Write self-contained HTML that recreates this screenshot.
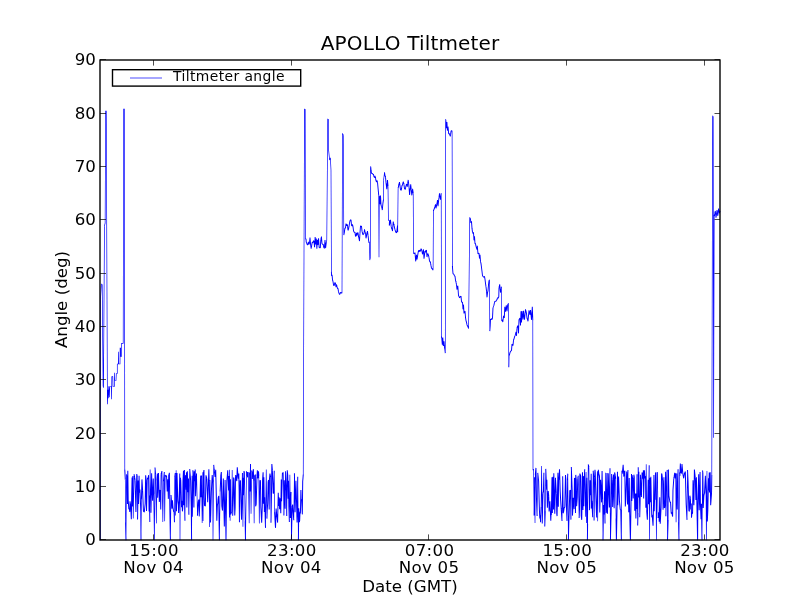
<!DOCTYPE html>
<html><head><meta charset="utf-8"><title>APOLLO Tiltmeter</title>
<style>
html,body{margin:0;padding:0;background:#fff;width:800px;height:600px;overflow:hidden}
svg{display:block}
text{font-family:"DejaVu Sans","Liberation Sans",sans-serif;fill:#000}
#txt{will-change:opacity;opacity:0.999}
</style></head><body>
<svg width="800" height="600" viewBox="0 0 800 600">
<rect width="800" height="600" fill="#fff"/>
<path fill="#0000ff" fill-rule="nonzero" stroke="none" d="M100.05,540.15L100.16,299.85L100.85,299.85L100.74,540.15ZM100.15,300.13L100.56,291.83L101.25,291.87L100.84,300.17ZM100.55,292.13L100.96,284.83L101.65,284.87L101.24,292.17ZM100.92,284.98L101.56,283.71L102.18,284.02L101.54,285.29ZM101.98,283.67L102.56,284.40L102.02,284.83L101.44,284.10ZM102.54,284.35L103.45,386.15L102.76,386.15L101.85,284.35ZM103.40,385.77L103.87,387.66L103.20,387.83L102.73,385.94ZM103.15,387.75L104.11,225.85L104.80,225.85L103.84,387.75ZM104.08,226.07L104.85,222.78L105.52,222.93L104.75,226.22ZM104.80,223.15L105.26,110.85L105.95,110.85L105.49,223.15ZM105.45,110.66L106.45,110.66L106.45,111.34L105.45,111.34ZM106.64,110.85L107.75,404.15L107.06,404.15L105.95,110.85ZM107.05,404.14L107.66,389.84L108.35,389.86L107.74,404.16ZM108.34,389.84L108.65,398.14L107.96,398.16L107.65,389.86ZM107.95,398.13L108.46,386.34L109.15,386.37L108.64,398.16ZM109.14,386.33L109.65,397.13L108.96,397.17L108.45,386.37ZM108.95,397.13L109.46,386.33L110.15,386.37L109.64,397.17ZM109.65,386.15L111.55,386.15L111.55,386.85L109.65,386.85ZM111.74,386.34L111.95,399.14L111.26,399.16L111.05,386.36ZM111.25,399.15L111.46,376.45L112.15,376.45L111.94,399.15ZM111.65,376.25L112.95,376.25L112.95,376.95L111.65,376.95ZM113.14,376.44L113.35,386.64L112.66,386.66L112.45,376.46ZM112.85,386.15L114.55,386.15L114.55,386.85L112.85,386.85ZM114.05,386.65L114.16,372.85L114.85,372.85L114.74,386.65ZM114.84,372.84L115.05,380.64L114.36,380.66L114.15,372.86ZM114.55,380.15L116.15,380.15L116.15,380.85L114.55,380.85ZM115.65,380.64L115.96,373.34L116.65,373.36L116.34,380.66ZM116.15,373.15L117.45,373.15L117.45,373.85L116.15,373.85ZM116.95,373.65L116.95,363.85L117.64,363.85L117.64,373.65ZM117.15,363.65L118.45,363.65L118.45,364.35L117.15,364.35ZM117.95,364.15L118.06,351.85L118.75,351.85L118.64,364.15ZM118.74,351.84L118.95,364.14L118.26,364.16L118.05,351.86ZM118.45,363.65L120.15,363.65L120.15,364.35L118.45,364.35ZM119.65,364.15L119.76,347.85L120.45,347.85L120.34,364.15ZM119.95,347.65L120.75,347.65L120.75,348.35L119.95,348.35ZM120.94,347.85L120.94,356.65L120.25,356.65L120.25,347.85ZM120.45,356.15L121.65,356.15L121.65,356.85L120.45,356.85ZM121.16,356.65L121.16,343.25L121.84,343.25L121.84,356.65ZM121.35,343.05L123.35,343.05L123.35,343.75L121.35,343.75ZM122.85,343.55L123.26,108.85L123.95,108.85L123.54,343.55ZM123.45,108.66L124.55,108.66L124.55,109.34L123.45,109.34ZM124.74,108.85L125.15,470.15L124.46,470.15L124.05,108.85ZM125.29,469.82L125.81,479.61L124.81,479.66L124.29,469.88ZM125.64,479.33L125.92,522.89L125.23,522.90L124.95,479.34ZM126.07,522.58L126.50,540.14L125.50,540.16L125.07,522.61ZM125.65,540.15L126.16,474.42L126.85,474.43L126.34,540.15ZM126.97,474.35L127.67,478.66L126.68,478.82L125.98,474.51ZM127.65,478.44L127.93,503.96L126.93,503.97L126.65,478.45ZM126.92,503.96L127.30,470.65L128.30,470.66L127.92,503.97ZM128.30,470.65L128.68,499.77L127.68,499.79L127.30,470.66ZM128.66,499.45L129.33,509.11L128.34,509.18L127.67,499.52ZM128.55,508.55L129.49,508.30L129.75,509.27L128.81,509.52ZM129.96,508.63L130.26,511.93L129.27,512.02L128.96,508.72ZM129.25,511.96L129.53,501.26L130.53,501.28L130.25,511.99ZM130.50,501.20L131.19,505.87L130.20,506.02L129.51,501.34ZM131.17,505.62L131.83,519.30L130.83,519.35L130.17,505.67ZM130.82,519.32L131.20,496.40L132.20,496.42L131.82,519.34ZM131.20,496.70L131.58,477.49L132.58,477.51L132.20,496.72ZM132.57,477.49L133.08,506.56L132.08,506.58L131.57,477.51ZM132.07,506.57L132.35,476.05L133.35,476.06L133.07,506.58ZM133.19,476.05L133.57,518.52L132.88,518.53L132.50,476.06ZM132.88,518.52L133.73,474.33L134.42,474.34L133.57,518.53ZM134.54,474.24L135.09,477.09L134.11,477.28L133.56,474.44ZM135.05,476.81L135.59,480.25L134.60,480.41L134.06,476.97ZM135.57,480.02L136.43,512.01L135.43,512.04L134.57,480.05ZM135.42,512.02L136.28,474.08L137.28,474.11L136.42,512.04ZM137.23,473.99L137.80,476.64L136.82,476.85L136.25,474.20ZM137.62,476.45L137.90,519.41L137.21,519.41L136.93,476.45ZM137.05,519.40L137.70,480.45L138.70,480.47L138.05,519.42ZM138.70,480.45L139.08,503.93L138.08,503.94L137.70,480.47ZM138.07,503.92L138.58,475.66L139.58,475.68L139.07,503.94ZM139.57,475.66L139.95,492.74L138.95,492.76L138.57,475.68ZM138.93,492.66L139.48,489.43L140.47,489.59L139.92,492.83ZM140.44,489.49L141.31,511.36L140.31,511.40L139.44,489.53ZM141.30,511.08L141.50,540.15L140.50,540.15L140.30,511.08ZM140.65,540.15L141.11,499.04L141.80,499.05L141.34,540.15ZM140.95,499.33L141.45,479.38L142.45,479.41L141.95,499.36ZM142.44,479.37L143.11,490.58L142.11,490.64L141.44,479.43ZM143.09,490.29L143.96,511.46L142.96,511.50L142.09,490.33ZM143.65,510.85L144.74,511.75L144.10,512.52L143.01,511.62ZM143.79,512.13L144.67,503.72L145.66,503.82L144.78,512.24ZM144.65,504.06L145.15,475.27L146.15,475.29L145.65,504.07ZM146.13,475.22L146.54,478.87L145.54,478.98L145.14,475.33ZM146.52,478.61L147.03,511.02L146.03,511.03L145.52,478.63ZM146.02,511.02L146.68,479.93L147.68,479.95L147.02,511.04ZM146.65,480.13L146.99,478.53L147.97,478.74L147.63,480.34ZM146.94,478.69L147.92,476.72L148.81,477.16L147.83,479.14ZM147.78,477.14L148.10,475.12L149.09,475.28L148.77,477.30ZM149.07,475.19L149.58,511.42L148.58,511.43L148.07,475.20ZM148.57,511.41L148.85,495.41L149.85,495.42L149.57,511.43ZM149.85,495.41L150.35,521.99L149.35,522.01L148.85,495.42ZM149.50,522.00L149.78,469.50L150.47,469.51L150.19,522.00ZM150.47,469.50L151.32,512.83L150.63,512.84L149.78,469.51ZM150.47,512.83L151.13,473.29L152.13,473.31L151.47,512.84ZM152.12,473.28L152.63,491.67L151.63,491.70L151.12,473.31ZM152.62,491.36L153.13,500.67L152.13,500.73L151.62,491.41ZM152.12,500.69L152.78,478.43L153.78,478.46L153.12,500.72ZM153.77,478.43L154.15,493.83L153.15,493.86L152.77,478.46ZM153.99,493.54L154.75,540.14L154.06,540.16L153.30,493.55ZM154.05,540.15L154.66,467.42L155.35,467.43L154.74,540.15ZM155.49,467.39L156.01,474.02L155.01,474.10L154.49,467.47ZM155.84,473.75L156.70,523.37L156.01,523.38L155.15,473.77ZM156.00,523.37L156.51,479.93L157.20,479.93L156.69,523.38ZM156.34,480.19L156.86,473.49L157.86,473.57L157.34,480.27ZM157.85,473.52L158.13,497.81L157.13,497.82L156.85,473.53ZM157.12,497.79L157.98,473.06L158.98,473.10L158.12,497.83ZM158.97,473.07L159.83,502.00L158.83,502.03L157.97,473.10ZM158.81,501.96L159.22,497.87L160.21,497.97L159.81,502.06ZM159.20,498.21L159.48,489.85L160.48,489.88L160.19,498.24ZM160.46,489.82L160.99,495.60L159.99,495.69L159.46,489.91ZM160.97,495.33L161.25,509.39L160.25,509.41L159.97,495.35ZM160.25,509.40L160.63,473.93L161.63,473.94L161.25,509.41ZM160.60,474.09L161.54,470.91L162.50,471.19L161.56,474.37ZM162.32,471.04L163.17,522.07L162.48,522.08L161.63,471.05ZM162.48,522.07L163.13,481.00L163.82,481.01L163.17,522.08ZM162.96,481.26L163.84,471.94L164.84,472.04L163.96,481.35ZM164.67,471.99L165.05,521.33L164.36,521.34L163.98,471.99ZM164.35,521.33L164.86,475.03L165.55,475.04L165.04,521.34ZM165.58,474.83L166.21,476.11L165.32,476.55L164.69,475.27ZM165.32,475.83L166.43,475.20L166.93,476.07L165.82,476.70ZM167.04,475.54L167.71,491.44L166.71,491.48L166.04,475.58ZM166.69,491.43L167.36,479.29L168.36,479.35L167.69,491.49ZM168.35,479.31L168.85,498.86L167.85,498.89L167.35,479.33ZM167.85,498.87L168.23,475.37L169.23,475.38L168.85,498.89ZM168.20,475.55L168.93,472.70L169.90,472.94L169.17,475.79ZM169.87,472.81L170.38,510.93L169.38,510.94L168.87,472.82ZM170.37,510.63L170.90,540.14L169.90,540.16L169.37,510.65ZM170.05,540.15L170.68,494.94L171.37,494.95L170.74,540.15ZM171.51,494.91L171.81,498.74L170.81,498.82L170.51,494.98ZM171.79,498.45L172.46,508.66L171.46,508.73L170.79,498.52ZM171.44,508.67L171.96,500.35L172.96,500.42L172.44,508.73ZM172.94,500.35L173.46,507.50L172.46,507.58L171.94,500.42ZM173.42,507.16L174.12,511.51L173.13,511.66L172.43,507.32ZM173.91,511.02L174.59,511.91L173.79,512.52L173.11,511.62ZM174.59,511.93L174.98,522.30L173.98,522.34L173.59,511.97ZM174.13,522.32L174.41,477.31L175.10,477.31L174.82,522.32ZM174.24,477.55L174.77,472.91L175.76,473.03L175.23,477.66ZM175.59,472.97L175.97,515.57L175.28,515.57L174.90,472.97ZM175.28,515.57L175.78,470.35L176.47,470.36L175.97,515.57ZM176.47,470.35L176.85,511.22L176.16,511.23L175.78,470.36ZM176.00,511.22L176.50,472.98L177.50,473.00L177.00,511.23ZM177.50,472.98L178.35,501.09L177.35,501.12L176.50,473.01ZM178.33,500.75L178.87,504.86L177.87,504.99L177.33,500.88ZM178.84,504.61L179.13,513.00L178.13,513.03L177.85,504.64ZM178.12,513.00L178.78,496.29L179.78,496.33L179.12,513.04ZM178.77,496.60L179.28,473.52L180.28,473.54L179.77,496.62ZM180.12,473.53L180.35,540.15L179.66,540.15L179.43,473.53ZM179.65,540.15L179.98,477.85L180.67,477.85L180.34,540.15ZM180.78,477.75L181.22,479.79L180.24,480.00L179.80,477.96ZM181.20,479.58L182.05,507.26L181.05,507.29L180.20,479.61ZM181.04,507.25L181.44,500.80L182.43,500.86L182.04,507.31ZM182.42,500.80L182.93,511.31L181.93,511.36L181.42,500.85ZM181.91,511.27L182.22,508.72L183.21,508.84L182.90,511.40ZM182.20,509.08L182.48,480.97L183.48,480.98L183.20,509.09ZM182.47,481.25L182.98,470.66L183.98,470.70L183.47,481.30ZM183.97,470.68L184.25,505.34L183.25,505.35L182.97,470.68ZM183.25,505.33L183.90,469.94L184.90,469.96L184.25,505.35ZM184.90,469.95L185.18,507.76L184.18,507.76L183.90,469.96ZM185.17,507.45L185.45,520.65L184.45,520.67L184.17,507.47ZM184.60,520.66L184.98,477.35L185.67,477.36L185.29,520.66ZM184.81,477.57L185.23,474.97L186.22,475.13L185.79,477.73ZM186.19,475.03L186.70,489.60L185.71,489.63L185.20,475.07ZM185.70,489.61L185.98,472.18L186.98,472.20L186.70,489.62ZM186.97,472.19L187.35,507.58L186.35,507.59L185.97,472.20ZM186.35,507.58L186.85,471.13L187.85,471.14L187.35,507.59ZM187.85,471.13L188.35,492.14L187.35,492.17L186.85,471.15ZM187.34,492.13L188.01,478.52L189.01,478.57L188.34,492.18ZM189.00,478.54L189.38,514.72L188.38,514.73L188.00,478.55ZM188.53,514.72L189.38,469.04L190.07,469.05L189.22,514.73ZM190.21,469.00L190.61,473.77L189.61,473.85L189.21,469.09ZM190.59,473.47L191.11,480.41L190.11,480.48L189.59,473.55ZM191.10,480.13L191.75,506.70L190.75,506.73L190.10,480.16ZM191.75,506.41L192.10,540.14L191.10,540.16L190.75,506.42ZM191.25,540.15L191.66,475.71L192.35,475.72L191.94,540.15ZM192.34,475.71L192.85,516.85L192.16,516.86L191.65,475.72ZM192.15,516.85L192.53,470.36L193.22,470.36L192.84,516.86ZM193.36,470.33L193.76,476.77L192.76,476.83L192.37,470.39ZM193.75,476.49L194.40,507.52L193.40,507.54L192.75,476.51ZM193.40,507.52L193.68,471.16L194.68,471.16L194.40,507.53ZM194.66,471.13L195.33,481.17L194.34,481.24L193.67,471.19ZM194.32,481.19L194.71,469.42L195.70,469.45L195.32,481.22ZM195.70,469.43L196.08,496.29L195.08,496.31L194.70,469.44ZM195.07,496.28L195.73,477.17L196.73,477.20L196.07,496.32ZM195.71,477.43L196.12,473.54L197.11,473.65L196.71,477.53ZM196.94,473.59L197.80,515.78L197.11,515.79L196.25,473.60ZM196.94,515.76L197.81,501.02L198.81,501.08L197.94,515.81ZM197.78,501.14L198.55,499.35L199.47,499.75L198.70,501.54ZM199.45,499.53L199.73,516.35L198.73,516.37L198.45,499.55ZM198.72,516.34L199.58,496.52L200.58,496.57L199.72,516.38ZM199.57,496.83L199.95,480.66L200.95,480.68L200.57,496.86ZM199.94,480.94L200.23,475.62L201.23,475.67L200.94,481.00ZM201.22,475.64L201.50,497.14L200.50,497.15L200.22,475.65ZM200.50,497.14L201.00,475.57L202.00,475.59L201.50,497.16ZM201.84,475.57L202.50,522.92L201.81,522.93L201.15,475.58ZM201.80,522.92L202.46,472.14L203.15,472.15L202.49,522.93ZM203.14,472.14L203.42,521.02L202.73,521.02L202.45,472.15ZM202.73,521.02L203.11,473.21L203.80,473.21L203.42,521.02ZM202.93,473.43L203.48,469.94L204.47,470.09L203.92,473.59ZM204.45,470.01L204.73,498.05L203.73,498.06L203.45,470.02ZM204.72,497.74L205.01,505.50L204.01,505.54L203.72,497.78ZM204.69,504.88L205.77,505.72L205.16,506.51L204.08,505.67ZM204.85,506.17L205.50,475.26L206.50,475.28L205.85,506.19ZM206.45,475.14L207.37,478.68L206.40,478.93L205.48,475.40ZM207.34,478.49L208.21,502.31L207.21,502.35L206.34,478.53ZM207.19,502.31L207.71,489.32L208.71,489.36L208.19,502.35ZM207.70,489.63L208.36,469.17L209.35,469.20L208.69,489.66ZM209.35,469.17L209.63,480.53L208.63,480.56L208.35,469.20ZM209.47,480.24L209.97,527.00L209.28,527.01L208.78,480.25ZM209.28,527.00L209.66,480.07L210.35,480.08L209.97,527.01ZM210.34,480.07L210.85,522.38L210.16,522.39L209.65,480.08ZM210.00,522.37L210.85,491.88L211.85,491.91L211.00,522.40ZM210.84,492.17L211.71,475.05L212.71,475.10L211.84,492.22ZM212.69,475.04L213.21,481.40L212.21,481.48L211.69,475.12ZM213.04,481.14L213.35,540.15L212.66,540.15L212.35,481.14ZM212.65,540.15L213.36,464.91L214.05,464.92L213.34,540.15ZM214.18,464.86L214.71,470.07L213.72,470.17L213.19,464.96ZM214.68,469.76L215.56,476.85L214.57,476.98L213.69,469.88ZM214.54,476.87L215.22,469.78L216.21,469.88L215.53,476.96ZM216.20,469.82L216.48,480.84L215.48,480.86L215.20,469.84ZM216.47,480.54L217.33,520.82L216.33,520.84L215.47,480.56ZM216.32,520.81L216.83,505.59L217.83,505.63L217.32,520.84ZM216.81,505.82L217.36,502.83L218.34,503.01L217.79,506.00ZM217.32,503.19L217.61,498.01L218.61,498.07L218.32,503.25ZM217.58,498.19L218.32,495.77L219.27,496.07L218.53,498.48ZM219.25,495.91L219.53,518.67L218.53,518.68L218.25,495.92ZM219.52,518.36L219.90,540.14L218.90,540.16L218.52,518.38ZM219.05,540.14L219.83,491.29L220.52,491.30L219.74,540.16ZM219.67,491.58L220.33,475.37L221.33,475.41L220.67,491.62ZM220.31,475.61L220.85,472.05L221.84,472.20L221.30,475.77ZM221.82,472.11L222.33,506.26L221.33,506.27L220.82,472.13ZM222.30,505.89L222.99,510.53L222.00,510.68L221.31,506.04ZM221.97,510.60L222.83,478.62L223.83,478.65L222.97,510.62ZM223.82,478.62L224.33,502.60L223.33,502.62L222.82,478.64ZM224.32,502.30L224.83,526.59L223.83,526.61L223.32,502.32ZM223.82,526.59L224.20,507.32L225.20,507.34L224.82,526.61ZM224.20,507.62L224.58,480.06L225.58,480.07L225.20,507.63ZM225.57,480.06L226.08,508.62L225.08,508.64L224.57,480.07ZM226.07,508.33L226.50,540.14L225.50,540.16L225.07,508.34ZM225.50,540.14L225.85,508.14L226.85,508.15L226.50,540.16ZM225.85,508.43L226.35,480.41L227.35,480.43L226.85,508.45ZM226.34,480.68L226.87,474.96L227.86,475.05L227.33,480.77ZM226.84,475.27L227.24,470.14L228.24,470.22L227.84,475.35ZM228.22,470.16L229.08,490.57L228.08,490.61L227.22,470.20ZM228.07,490.58L228.35,475.96L229.35,475.98L229.07,490.60ZM229.19,475.96L229.70,517.61L229.01,517.62L228.50,475.97ZM229.00,517.62L229.28,469.81L229.97,469.82L229.69,517.62ZM229.97,469.81L230.47,520.83L229.78,520.84L229.28,469.82ZM229.78,520.83L230.06,479.32L230.75,479.32L230.47,520.84ZM230.90,479.31L231.18,514.52L230.18,514.53L229.90,479.32ZM230.15,514.34L231.11,511.75L232.05,512.10L231.09,514.69ZM231.80,511.63L232.28,512.17L231.52,512.83L231.05,512.28ZM231.45,512.53L231.83,469.90L232.52,469.90L232.14,512.54ZM232.52,469.90L233.02,515.79L232.33,515.80L231.83,469.90ZM232.17,515.78L232.83,496.40L233.83,496.43L233.17,515.81ZM232.82,496.71L233.10,477.49L234.10,477.51L233.82,496.72ZM234.01,477.32L234.50,478.55L233.57,478.92L233.08,477.69ZM234.47,478.43L234.75,489.56L233.75,489.58L233.47,478.45ZM234.75,489.26L235.25,515.55L234.25,515.57L233.75,489.28ZM234.24,515.53L234.63,507.52L235.63,507.57L235.24,515.58ZM234.62,507.84L235.00,476.13L236.00,476.14L235.62,507.85ZM234.98,476.30L235.33,474.95L236.30,475.20L235.95,476.55ZM236.25,475.00L236.79,478.61L235.80,478.76L235.26,475.15ZM236.73,478.29L237.30,480.96L236.32,481.16L235.75,478.49ZM236.27,481.05L236.78,467.34L237.78,467.38L237.27,481.08ZM237.76,467.32L238.44,475.36L237.44,475.44L236.76,467.40ZM238.41,475.05L238.81,478.71L237.82,478.82L237.41,475.16ZM237.79,478.72L238.32,473.48L239.31,473.59L238.78,478.82ZM239.30,473.52L239.68,491.62L238.68,491.64L238.30,473.54ZM239.67,491.33L239.95,522.19L238.95,522.20L238.67,491.34ZM239.10,522.19L239.61,480.89L240.30,480.90L239.79,522.20ZM239.50,480.77L240.23,480.12L240.90,480.87L240.17,481.52ZM240.95,480.43L241.80,514.37L240.80,514.39L239.95,480.46ZM241.79,514.06L242.08,519.73L241.08,519.79L240.79,514.11ZM241.07,519.75L241.45,500.58L242.45,500.60L242.07,519.77ZM241.45,500.88L241.95,473.02L242.95,473.04L242.45,500.90ZM242.79,473.03L243.30,526.65L242.61,526.65L242.10,473.04ZM242.60,526.65L242.88,477.75L243.57,477.75L243.29,526.65ZM243.72,477.74L244.00,495.26L243.00,495.28L242.72,477.76ZM243.00,495.26L243.50,471.09L244.50,471.12L244.00,495.28ZM244.42,470.95L245.02,472.66L244.08,472.99L243.48,471.28ZM244.84,472.53L245.50,521.57L244.81,521.58L244.15,472.54ZM245.65,521.27L246.00,540.14L245.00,540.16L244.65,521.29ZM245.15,540.14L246.16,471.22L246.85,471.23L245.84,540.16ZM246.99,471.19L247.28,475.76L246.29,475.82L245.99,471.26ZM246.26,475.75L246.56,471.98L247.56,472.06L247.26,475.83ZM247.53,471.97L248.06,477.32L247.07,477.42L246.54,472.07ZM247.04,477.34L247.33,472.36L248.33,472.42L248.04,477.40ZM247.62,472.06L248.41,471.97L248.53,472.96L247.74,473.06ZM248.67,472.33L249.52,523.27L248.83,523.28L247.98,472.34ZM248.83,523.28L249.21,472.40L249.90,472.41L249.52,523.28ZM250.05,472.39L250.55,491.54L249.55,491.57L249.05,472.42ZM249.55,491.55L250.05,463.94L251.05,463.96L250.55,491.57ZM250.89,463.95L251.40,513.84L250.71,513.85L250.20,463.95ZM250.70,513.84L251.36,470.61L252.05,470.62L251.39,513.85ZM252.19,470.58L252.86,479.02L251.86,479.10L251.19,470.66ZM251.84,479.03L252.24,473.18L253.23,473.25L252.84,479.10ZM252.21,473.43L252.91,469.08L253.89,469.24L253.19,473.59ZM253.87,469.15L254.15,480.44L253.15,480.46L252.87,469.17ZM253.99,480.15L254.50,523.26L253.81,523.27L253.30,480.16ZM253.80,523.26L254.18,476.07L254.87,476.07L254.49,523.26ZM254.02,476.10L255.01,474.35L255.88,474.84L254.89,476.60ZM255.87,474.57L256.15,506.42L255.15,506.43L254.87,474.58ZM255.13,506.30L255.70,504.11L256.67,504.36L256.10,506.55ZM255.65,504.52L256.50,475.78L257.50,475.81L256.65,504.55ZM256.49,476.06L256.89,470.30L257.88,470.37L257.49,476.13ZM257.86,470.31L258.38,478.36L257.39,478.43L256.87,470.37ZM257.36,478.35L258.04,471.22L259.04,471.31L258.36,478.44ZM259.01,471.23L259.31,475.63L258.31,475.69L258.02,471.30ZM259.14,475.36L259.65,523.61L258.96,523.62L258.45,475.36ZM258.95,523.61L259.46,480.56L260.15,480.57L259.64,523.62ZM259.45,480.33L260.37,479.90L260.80,480.80L259.88,481.23ZM260.95,480.25L261.33,507.24L260.33,507.25L259.95,480.27ZM261.32,506.92L262.18,522.71L261.18,522.77L260.32,506.97ZM261.17,522.72L261.83,504.77L262.83,504.81L262.17,522.76ZM261.82,505.09L262.10,479.44L263.10,479.45L262.82,505.10ZM262.09,479.71L262.61,472.17L263.61,472.24L263.09,479.78ZM263.60,472.20L263.88,503.66L262.88,503.67L262.60,472.21ZM262.87,503.66L263.38,477.34L264.38,477.36L263.87,503.68ZM264.37,477.35L264.88,511.96L263.88,511.97L263.37,477.36ZM263.87,511.96L264.15,497.24L265.15,497.26L264.87,511.97ZM265.15,497.23L265.53,511.28L264.53,511.31L264.15,497.26ZM265.52,510.98L266.00,527.87L265.00,527.90L264.52,511.01ZM265.15,527.88L265.91,469.49L266.60,469.50L265.84,527.89ZM266.59,469.49L267.25,518.62L266.56,518.63L265.90,469.50ZM266.40,518.61L266.68,510.54L267.68,510.58L267.39,518.65ZM266.67,510.82L267.19,503.77L268.18,503.84L267.66,510.90ZM267.17,504.09L267.68,481.10L268.68,481.12L268.17,504.12ZM267.66,481.18L268.29,479.87L269.19,480.31L268.56,481.61ZM269.17,480.06L269.68,509.57L268.68,509.59L268.17,480.08ZM268.67,509.58L268.95,479.43L269.95,479.44L269.67,509.59ZM268.94,479.69L269.46,473.51L270.46,473.59L269.94,479.78ZM270.41,473.46L271.12,477.12L270.14,477.31L269.43,473.65ZM270.94,476.91L271.32,522.70L270.63,522.70L270.25,476.92ZM270.47,522.69L270.98,494.16L271.98,494.18L271.47,522.71ZM270.97,494.47L271.35,464.04L272.35,464.05L271.97,494.48ZM272.34,464.01L272.86,470.08L271.86,470.16L271.34,464.09ZM272.84,469.80L273.71,493.68L272.71,493.71L271.84,469.84ZM272.68,493.46L273.19,492.42L274.09,492.86L273.58,493.90ZM273.07,492.91L273.73,470.79L274.73,470.82L274.07,492.94ZM274.57,470.80L274.95,512.48L274.26,512.49L273.88,470.80ZM275.09,512.15L276.01,527.85L275.01,527.91L274.09,512.21ZM275.00,527.87L275.60,508.55L276.60,508.58L276.00,527.90ZM276.58,508.51L277.26,515.13L276.27,515.24L275.59,508.61ZM277.23,514.83L278.11,522.52L277.12,522.64L276.24,514.94ZM277.10,522.57L277.75,492.80L278.75,492.82L278.10,522.59ZM278.74,492.79L279.26,506.07L278.26,506.11L277.74,492.83ZM278.24,506.06L278.63,497.35L279.63,497.39L279.24,506.11ZM279.62,497.35L280.13,509.17L279.13,509.21L278.62,497.39ZM279.12,509.17L279.41,501.42L280.41,501.45L280.12,509.21ZM279.39,501.67L279.80,498.28L280.79,498.40L280.38,501.79ZM280.77,498.32L281.28,513.33L280.28,513.36L279.77,498.35ZM280.27,513.34L280.78,479.60L281.78,479.62L281.27,513.35ZM281.77,479.60L282.05,501.37L281.05,501.39L280.77,479.61ZM281.05,501.36L281.90,473.36L282.90,473.39L282.05,501.39ZM281.92,473.32L282.96,472.06L283.73,472.70L282.69,473.96ZM283.59,472.34L284.25,515.44L283.56,515.45L282.90,472.35ZM283.40,515.44L283.78,480.36L284.78,480.37L284.40,515.45ZM284.77,480.35L285.63,508.82L284.63,508.85L283.77,480.38ZM284.62,508.83L285.13,471.23L286.13,471.24L285.62,508.84ZM286.12,471.21L286.98,491.13L285.98,491.17L285.12,471.26ZM286.97,490.84L287.25,516.01L286.25,516.02L285.97,490.85ZM286.40,516.01L286.91,470.18L287.60,470.19L287.09,516.01ZM287.73,470.14L288.26,475.27L287.27,475.37L286.74,470.24ZM288.25,475.01L288.63,498.69L287.63,498.71L287.25,475.03ZM287.62,498.69L288.00,480.72L289.00,480.74L288.62,498.71ZM289.00,480.72L289.38,506.80L288.38,506.81L288.00,480.74ZM289.37,506.49L289.88,521.88L288.88,521.92L288.37,506.52ZM289.03,521.90L289.53,474.67L290.22,474.68L289.72,521.90ZM290.22,474.67L290.72,518.11L290.03,518.11L289.53,474.68ZM289.87,518.10L290.53,491.99L291.53,492.02L290.87,518.12ZM291.37,492.00L291.75,540.15L291.06,540.15L290.68,492.01ZM290.90,540.14L291.65,506.82L292.65,506.84L291.90,540.16ZM291.63,507.02L292.19,504.43L293.17,504.65L292.61,507.23ZM293.14,504.51L293.43,509.21L292.44,509.27L292.14,504.57ZM293.41,508.90L294.29,520.16L293.29,520.24L292.41,508.98ZM293.43,520.19L294.08,473.34L294.77,473.35L294.12,520.20ZM294.92,473.33L295.58,512.20L294.58,512.22L293.92,473.35ZM294.57,512.19L295.43,480.76L296.43,480.78L295.57,512.22ZM296.42,480.75L297.08,503.44L296.08,503.47L295.42,480.78ZM297.07,503.15L297.58,522.38L296.58,522.40L296.07,503.17ZM296.57,522.37L296.96,512.07L297.96,512.11L297.57,522.41ZM296.95,512.39L297.23,476.83L298.23,476.83L297.95,512.39ZM298.07,476.83L298.75,540.15L298.06,540.15L297.38,476.83ZM297.90,540.14L298.23,508.28L299.23,508.29L298.90,540.16ZM299.22,508.26L299.88,522.01L298.88,522.06L298.22,508.31ZM298.85,521.91L299.20,520.49L300.17,520.72L299.83,522.15ZM299.14,520.88L299.53,511.63L300.53,511.68L300.14,520.92ZM300.48,511.55L300.92,513.61L299.94,513.82L299.50,511.76ZM299.90,513.71L300.40,489.96L301.40,489.98L300.90,513.73ZM301.40,489.96L301.68,499.97L300.68,500.00L300.40,489.99ZM300.75,499.53L301.49,498.96L302.10,499.75L301.36,500.32ZM302.17,499.28L302.83,514.35L301.83,514.39L301.17,499.32ZM301.82,514.36L302.20,481.17L303.20,481.18L302.82,514.38ZM302.19,481.43L302.49,478.22L303.49,478.32L303.18,481.52ZM302.47,478.53L302.76,474.39L303.76,474.46L303.46,478.60ZM302.90,474.72L304.16,108.85L304.85,108.85L303.59,474.73ZM304.58,108.63L305.52,109.31L305.12,109.87L304.18,109.19ZM305.54,109.35L305.75,239.15L305.06,239.15L304.85,109.35ZM305.25,238.66L306.15,238.66L306.15,239.34L305.25,239.34ZM306.46,238.82L306.68,242.08L305.74,242.14L305.52,238.88ZM306.58,241.63L307.24,243.17L306.37,243.54L305.70,242.01ZM307.14,242.92L307.78,244.69L306.89,245.02L306.25,243.24ZM307.19,244.22L308.03,244.32L307.93,245.26L307.09,245.17ZM307.33,244.83L307.93,241.74L308.87,241.93L308.27,245.01ZM308.80,241.73L309.41,244.40L308.48,244.61L307.87,241.94ZM308.42,244.31L309.08,242.78L309.95,243.15L309.29,244.68ZM308.97,243.20L309.54,237.57L310.49,237.66L309.91,243.30ZM310.46,237.57L311.06,244.48L310.11,244.56L309.51,237.66ZM311.02,244.16L311.63,248.73L310.69,248.85L310.08,244.28ZM310.65,248.71L311.27,245.04L312.21,245.19L311.59,248.87ZM311.22,245.32L311.85,241.93L312.78,242.10L312.15,245.50ZM312.52,241.72L313.30,242.52L312.62,243.19L311.84,242.39ZM312.36,242.77L313.01,240.38L313.93,240.62L313.28,243.02ZM313.67,240.21L314.45,241.02L313.76,241.68L312.98,240.87ZM314.46,241.04L315.06,247.19L314.11,247.29L313.51,241.14ZM314.09,247.21L314.68,237.07L315.63,237.13L315.04,247.27ZM315.60,237.06L316.20,244.41L315.25,244.48L314.66,237.14ZM315.23,244.40L315.83,238.48L316.77,238.57L316.17,244.49ZM316.75,238.50L317.34,248.80L316.39,248.85L315.80,238.55ZM316.37,248.79L316.96,239.81L317.91,239.88L317.32,248.85ZM317.88,239.79L318.49,244.82L317.55,244.93L316.94,239.90ZM317.51,244.84L318.11,238.14L319.06,238.23L318.46,244.92ZM319.04,238.16L319.63,247.53L318.68,247.59L318.09,238.22ZM319.21,246.92L320.05,247.31L319.65,248.17L318.81,247.78ZM319.62,247.18L320.49,247.29L320.38,248.23L319.51,248.13ZM319.80,247.86L320.39,239.26L321.34,239.33L320.75,247.93ZM320.36,239.49L321.00,236.53L321.92,236.73L321.29,239.69ZM321.89,236.58L322.49,243.74L321.54,243.82L320.94,236.66ZM322.25,243.20L323.05,244.09L322.35,244.72L321.55,243.84ZM322.62,243.80L323.50,244.12L323.18,245.01L322.30,244.69ZM323.64,244.27L324.30,247.49L323.36,247.68L322.70,244.46ZM324.09,247.03L324.87,248.07L324.11,248.64L323.33,247.60ZM323.92,248.35L324.54,240.08L325.48,240.15L324.86,248.42ZM325.46,240.08L326.09,248.11L325.14,248.19L324.51,240.15ZM325.11,248.09L325.75,242.79L326.69,242.91L326.05,248.21ZM325.83,243.08L326.49,239.79L327.17,239.92L326.51,243.21ZM326.45,240.15L327.36,118.85L328.05,118.85L327.14,240.15ZM327.78,118.63L328.72,119.31L328.32,119.87L327.38,119.19ZM328.74,119.35L328.95,150.15L328.26,150.15L328.05,119.35ZM328.93,149.82L329.96,160.11L329.27,160.18L328.24,149.89ZM329.22,160.01L330.14,157.73L330.78,157.99L329.86,160.27ZM330.74,157.83L331.35,170.13L330.66,170.17L330.05,157.87ZM331.34,169.85L331.75,272.15L331.06,272.15L330.65,169.85ZM331.87,271.83L332.08,276.10L331.13,276.14L330.92,271.87ZM331.11,275.91L331.69,274.60L332.56,274.98L331.97,276.30ZM332.53,274.73L333.02,280.14L332.07,280.23L331.58,274.82ZM332.93,279.74L333.50,281.33L332.60,281.65L332.04,280.06ZM333.45,281.13L334.09,285.50L333.15,285.64L332.51,281.27ZM333.52,284.93L334.42,285.06L334.28,286.00L333.38,285.87ZM333.70,285.56L334.37,282.47L335.30,282.67L334.63,285.75ZM334.79,282.22L335.68,282.48L335.41,283.39L334.52,283.12ZM335.85,282.68L336.49,287.16L335.55,287.29L334.91,282.81ZM335.51,287.13L336.06,284.22L336.99,284.40L336.44,287.31ZM336.92,284.20L337.50,286.47L336.58,286.71L336.00,284.43ZM337.43,286.19L338.00,288.54L337.07,288.76L336.50,286.41ZM337.25,288.07L338.05,287.90L338.25,288.83L337.45,289.00ZM338.45,288.18L338.99,291.84L338.05,291.98L337.51,288.32ZM338.89,291.45L339.50,293.08L338.61,293.41L338.00,291.78ZM339.39,292.80L340.00,294.38L339.11,294.72L338.50,293.14ZM339.06,294.18L339.77,293.47L340.44,294.14L339.73,294.85ZM339.50,293.88L340.11,292.27L341.00,292.61L340.39,294.22ZM340.24,292.16L341.03,291.96L341.26,292.89L340.47,293.08ZM341.23,292.02L341.94,292.72L341.27,293.40L340.56,292.69ZM341.40,292.47L342.19,292.54L342.10,293.49L341.31,293.41ZM341.65,293.15L342.16,133.35L342.85,133.35L342.34,293.15ZM342.73,133.21L343.68,134.97L343.07,135.29L342.12,133.53ZM343.64,134.85L344.15,235.15L343.46,235.15L342.95,134.85ZM343.30,235.04L343.87,232.58L344.80,232.79L344.23,235.25ZM343.81,232.91L344.45,228.20L345.39,228.33L344.75,233.04ZM344.51,228.11L345.35,227.53L345.89,228.31L345.05,228.89ZM345.01,228.10L345.55,223.62L346.49,223.74L345.95,228.21ZM346.42,223.56L347.00,225.71L346.08,225.96L345.50,223.81ZM346.00,225.68L346.60,223.97L347.50,224.29L346.90,225.99ZM347.42,224.00L348.00,226.04L347.08,226.30L346.50,224.26ZM347.95,225.82L348.49,230.47L347.55,230.58L347.01,225.93ZM347.51,230.31L348.13,228.95L348.99,229.35L348.37,230.71ZM348.01,229.35L348.56,226.32L349.49,226.49L348.94,229.52ZM348.51,226.63L349.05,222.89L349.99,223.03L349.45,226.77ZM349.00,223.16L349.56,220.38L350.50,220.57L349.94,223.35ZM349.54,220.43L350.23,219.61L350.96,220.23L350.27,221.05ZM350.19,219.65L350.97,219.35L351.31,220.24L350.53,220.53ZM351.46,219.65L351.99,225.37L351.04,225.46L350.51,219.74ZM351.77,224.85L352.46,225.70L351.73,226.30L351.04,225.45ZM351.50,225.85L352.11,224.29L353.00,224.64L352.39,226.20ZM352.93,224.35L353.50,226.78L352.57,227.00L352.00,224.56ZM353.45,226.53L353.99,230.72L353.05,230.84L352.51,226.65ZM353.89,230.33L354.50,231.96L353.61,232.29L353.00,230.66ZM354.16,231.51L354.90,232.05L354.34,232.82L353.60,232.29ZM354.50,231.85L355.29,232.10L355.00,233.00L354.21,232.76ZM355.45,232.29L355.99,236.41L355.05,236.53L354.51,232.42ZM355.21,235.92L355.99,235.65L356.29,236.55L355.51,236.82ZM355.51,236.23L356.05,232.71L356.99,232.85L356.45,236.37ZM356.94,232.69L357.49,235.56L356.56,235.74L356.01,232.87ZM356.51,235.56L357.06,232.66L357.99,232.84L357.44,235.74ZM357.20,232.50L357.98,232.22L358.30,233.12L357.52,233.40ZM358.45,232.51L358.99,236.42L358.05,236.55L357.51,232.64ZM358.93,236.08L359.50,238.50L358.57,238.71L358.00,236.30ZM359.44,238.22L360.00,240.98L359.06,241.17L358.50,238.41ZM359.02,241.05L359.54,232.81L360.48,232.87L359.96,241.11ZM359.52,233.11L360.04,225.70L360.98,225.77L360.46,233.17ZM360.72,225.44L361.44,226.12L360.78,226.81L360.06,226.13ZM360.78,225.91L361.57,225.79L361.72,226.73L360.93,226.85ZM361.96,226.08L362.49,231.08L361.54,231.18L361.01,226.18ZM362.43,230.72L363.00,233.18L362.07,233.40L361.50,230.94ZM362.91,232.86L363.50,234.79L362.59,235.07L362.00,233.14ZM362.54,234.59L363.23,233.77L363.96,234.37L363.27,235.20ZM363.04,233.99L363.74,233.18L364.46,233.80L363.76,234.61ZM363.51,233.70L364.05,229.37L364.99,229.49L364.45,233.81ZM364.92,229.32L365.50,231.60L364.58,231.83L364.00,229.55ZM365.38,231.24L366.00,232.67L365.12,233.04L364.50,231.62ZM365.96,232.53L366.49,238.39L365.54,238.48L365.01,232.61ZM365.50,238.33L366.07,235.73L367.00,235.93L366.43,238.53ZM366.01,236.05L366.55,232.54L367.49,232.69L366.95,236.20ZM366.50,232.75L367.10,230.99L368.00,231.29L367.40,233.06ZM367.95,231.07L368.49,235.03L367.55,235.16L367.01,231.20ZM368.45,234.75L368.99,239.44L368.05,239.55L367.51,234.85ZM368.95,239.14L369.44,242.98L368.50,243.10L368.01,239.25ZM368.46,242.81L369.04,241.65L369.89,242.08L369.31,243.24ZM369.74,241.84L370.15,260.14L369.46,260.16L369.05,241.86ZM369.43,260.06L370.00,257.77L370.67,257.94L370.10,260.23ZM369.95,258.15L370.16,166.85L370.85,166.85L370.64,258.15ZM370.01,166.90L370.36,166.28L371.19,166.75L370.84,167.36ZM371.16,166.45L371.59,170.88L370.64,170.97L370.21,166.54ZM371.54,170.56L371.99,173.30L371.06,173.46L370.61,170.71ZM371.63,172.75L372.39,173.24L371.87,174.04L371.11,173.55ZM372.08,173.07L372.85,173.45L372.42,174.30L371.65,173.92ZM372.71,173.35L373.43,174.01L372.79,174.71L372.07,174.06ZM373.09,173.77L373.86,174.18L373.41,175.02L372.64,174.61ZM373.93,174.28L374.50,176.78L373.57,176.99L373.00,174.49ZM374.32,176.36L374.98,177.41L374.18,177.91L373.52,176.86ZM374.00,177.54L374.59,175.64L375.50,175.92L374.91,177.82ZM375.43,175.67L376.00,178.09L375.07,178.31L374.50,175.89ZM375.94,177.82L376.49,180.86L375.56,181.03L375.01,177.99ZM376.37,180.46L376.99,181.85L376.13,182.24L375.51,180.85ZM376.00,181.87L376.61,180.33L377.50,180.68L376.89,182.22ZM377.41,180.36L378.00,182.20L377.09,182.49L376.50,180.65ZM377.96,182.01L378.49,187.75L377.54,187.84L377.01,182.09ZM378.46,187.45L379.19,195.10L378.24,195.19L377.51,187.54ZM379.04,194.85L379.35,257.15L378.66,257.15L378.35,194.85ZM378.65,257.15L378.96,195.85L379.65,195.85L379.34,257.15ZM379.71,195.72L380.00,196.66L379.09,196.94L378.80,196.00ZM379.96,196.47L380.48,204.27L379.54,204.33L379.02,196.54ZM379.52,204.27L380.03,195.40L380.98,195.45L380.47,204.33ZM380.97,195.40L381.48,205.00L380.53,205.05L380.02,195.45ZM381.42,204.61L381.93,206.57L381.01,206.81L380.50,204.85ZM381.81,206.22L382.36,207.53L381.49,207.90L380.94,206.59ZM382.31,207.35L382.79,210.07L381.86,210.23L381.37,207.51ZM381.81,210.11L382.39,203.67L383.34,203.75L382.76,210.19ZM382.36,203.94L382.95,199.78L383.89,199.92L383.30,204.07ZM383.05,200.15L383.26,179.85L383.95,179.85L383.74,200.15ZM383.24,180.11L384.18,172.31L384.86,172.39L383.92,180.19ZM384.95,172.28L385.49,175.71L384.55,175.86L384.01,172.43ZM385.40,175.33L386.00,177.01L385.10,177.33L384.50,175.65ZM385.96,176.84L386.49,182.57L385.54,182.66L385.01,176.92ZM386.45,182.26L386.89,185.87L385.95,185.99L385.51,182.38ZM386.85,185.58L387.29,189.21L386.35,189.33L385.91,185.69ZM386.31,189.23L387.04,180.04L387.99,180.11L387.26,189.31ZM387.96,180.03L388.49,186.11L387.54,186.19L387.01,180.11ZM388.34,185.85L388.75,220.15L388.06,220.15L387.65,185.85ZM388.54,219.52L389.89,220.42L389.36,221.21L388.01,220.31ZM389.98,220.60L389.77,225.69L388.82,225.65L389.03,220.56ZM388.80,225.55L389.48,222.86L390.40,223.09L389.72,225.78ZM389.41,223.18L390.06,219.72L390.99,219.90L390.34,223.36ZM390.96,219.75L391.69,226.60L390.74,226.70L390.01,219.86ZM391.63,226.26L392.13,228.58L391.20,228.78L390.70,226.46ZM391.96,228.16L392.55,229.12L391.74,229.61L391.15,228.66ZM392.49,228.98L393.00,231.00L392.08,231.23L391.57,229.21ZM392.02,231.08L392.74,221.52L393.68,221.59L392.96,231.15ZM393.62,221.44L394.13,223.46L393.21,223.69L392.70,221.67ZM394.05,223.16L394.56,225.00L393.65,225.26L393.14,223.41ZM394.51,224.76L394.99,227.86L394.05,228.01L393.57,224.91ZM394.92,227.51L395.50,229.62L394.58,229.87L394.00,227.77ZM395.42,229.32L396.00,231.38L395.08,231.64L394.50,229.58ZM395.87,231.03L396.49,232.41L395.63,232.81L395.01,231.43ZM396.17,232.00L396.91,232.56L396.33,233.32L395.59,232.76ZM396.01,232.92L396.56,229.71L397.49,229.87L396.94,233.08ZM396.51,230.03L397.05,225.42L397.99,225.53L397.45,230.14ZM397.97,225.46L398.18,232.14L397.23,232.16L397.02,225.49ZM397.35,232.15L397.76,187.85L398.45,187.85L398.04,232.15ZM397.60,187.98L397.90,187.14L398.80,187.46L398.50,188.30ZM397.81,187.50L398.46,184.12L399.39,184.30L398.74,187.68ZM398.40,184.37L399.08,181.99L400.00,182.25L399.32,184.63ZM399.95,182.05L400.49,185.85L399.55,185.99L399.01,182.18ZM400.45,185.56L400.99,189.73L400.05,189.86L399.51,185.68ZM400.74,189.21L401.65,190.15L400.96,190.81L400.05,189.87ZM400.71,190.43L401.16,188.09L402.09,188.28L401.64,190.61ZM401.11,188.42L401.55,185.19L402.49,185.32L402.05,188.54ZM401.66,185.04L402.36,184.71L402.77,185.57L402.07,185.90ZM401.94,185.26L402.43,182.67L403.36,182.84L402.87,185.44ZM402.37,182.87L402.91,181.49L403.80,181.83L403.25,183.22ZM403.72,181.53L404.40,184.10L403.48,184.34L402.80,181.77ZM404.35,183.87L404.99,188.76L404.05,188.88L403.41,183.99ZM404.72,188.22L405.38,188.85L404.73,189.54L404.07,188.91ZM404.91,188.59L405.65,188.76L405.44,189.69L404.70,189.52ZM404.91,189.26L405.50,185.44L406.44,185.59L405.85,189.41ZM405.45,185.64L406.10,183.84L407.00,184.17L406.35,185.96ZM406.87,183.82L407.39,184.98L406.53,185.37L406.01,184.20ZM407.33,184.78L407.80,186.69L406.87,186.92L406.40,185.01ZM406.81,186.75L407.30,182.71L408.24,182.82L407.75,186.87ZM407.26,182.98L407.75,179.87L408.69,180.02L408.20,183.13ZM408.65,179.89L409.09,183.27L408.15,183.39L407.71,180.01ZM409.06,182.98L409.49,187.03L408.54,187.13L408.11,183.08ZM409.46,186.75L410.08,194.95L409.14,195.03L408.52,186.82ZM409.11,194.94L409.69,189.12L410.64,189.21L410.06,195.04ZM409.66,189.41L410.25,184.31L411.19,184.42L410.60,189.52ZM411.16,184.32L411.74,189.80L410.79,189.90L410.21,184.42ZM411.71,189.51L412.29,195.36L411.34,195.45L410.76,189.60ZM411.31,195.34L411.75,192.14L412.69,192.27L412.25,195.47ZM411.71,192.45L412.15,188.81L413.09,188.92L412.65,192.56ZM413.05,188.79L413.69,193.08L412.75,193.22L412.11,188.94ZM413.54,192.85L413.85,253.15L413.16,253.15L412.85,192.85ZM413.74,252.57L414.45,253.32L413.76,253.97L413.05,253.21ZM413.83,253.07L414.63,253.03L414.67,253.98L413.87,254.02ZM414.01,253.40L414.67,252.28L415.49,252.76L414.83,253.88ZM415.46,252.46L416.19,261.35L415.24,261.42L414.51,252.54ZM415.21,261.33L415.65,257.74L416.59,257.86L416.15,261.44ZM415.61,258.03L416.05,254.74L416.99,254.86L416.55,258.16ZM416.96,254.75L417.49,259.54L416.54,259.65L416.01,254.85ZM416.51,259.51L417.06,256.31L417.99,256.47L417.44,259.67ZM417.01,256.61L417.55,253.14L418.49,253.29L417.95,256.76ZM417.51,253.43L418.06,250.24L418.99,250.41L418.44,253.59ZM418.89,250.16L419.50,251.71L418.61,252.06L418.00,250.51ZM418.50,251.74L419.09,249.90L420.00,250.19L419.41,252.03ZM419.88,249.87L420.50,251.37L419.62,251.73L419.00,250.22ZM419.58,251.14L420.31,250.53L420.92,251.26L420.19,251.87ZM420.00,251.03L420.57,248.58L421.50,248.79L420.93,251.24ZM421.22,248.38L421.94,249.08L421.28,249.76L420.56,249.06ZM421.93,249.06L422.50,251.43L421.57,251.65L421.00,249.28ZM422.44,251.16L422.99,254.37L422.06,254.53L421.51,251.32ZM422.00,254.36L422.56,251.56L423.50,251.74L422.94,254.54ZM422.50,251.84L423.07,249.35L424.00,249.56L423.43,252.05ZM423.97,249.43L424.48,258.72L423.53,258.77L423.02,249.48ZM423.51,258.68L424.05,254.83L424.99,254.97L424.45,258.81ZM424.01,255.13L424.55,251.01L425.49,251.13L424.95,255.26ZM425.35,250.86L425.99,252.06L425.15,252.51L424.51,251.31ZM425.00,252.18L425.58,249.96L426.50,250.20L425.92,252.42ZM426.25,249.80L426.95,250.56L426.25,251.20L425.55,250.44ZM426.96,250.58L427.49,257.04L426.54,257.12L426.01,250.66ZM426.51,257.00L427.06,253.80L427.99,253.96L427.44,257.16ZM427.12,253.70L427.87,253.23L428.38,254.03L427.63,254.51ZM428.41,253.43L429.00,255.38L428.09,255.65L427.50,253.70ZM428.93,255.12L429.50,257.48L428.57,257.70L428.00,255.34ZM429.45,257.23L429.99,261.04L429.05,261.18L428.51,257.36ZM429.78,260.55L430.47,261.41L429.72,262.01L429.03,261.14ZM430.40,261.30L431.00,263.03L430.10,263.34L429.50,261.61ZM430.94,262.80L431.50,265.57L430.56,265.76L430.00,262.99ZM431.44,265.28L431.99,268.29L431.06,268.46L430.51,265.45ZM431.60,267.74L432.37,268.17L431.90,269.00L431.13,268.57ZM432.29,268.10L433.02,269.07L432.26,269.64L431.53,268.68ZM432.85,268.84L433.57,269.84L432.80,270.40L432.08,269.39ZM432.75,270.15L433.06,209.85L433.75,209.85L433.44,270.15ZM433.84,209.77L433.99,210.63L433.06,210.80L432.91,209.94ZM433.00,210.53L433.62,209.01L434.50,209.36L433.88,210.88ZM433.50,209.27L434.12,207.82L435.00,208.19L434.38,209.65ZM434.00,208.16L434.58,205.97L435.50,206.21L434.92,208.41ZM434.50,206.24L435.09,204.27L436.00,204.55L435.41,206.51ZM435.95,204.34L436.49,208.35L435.55,208.48L435.01,204.47ZM435.50,208.32L436.06,205.50L437.00,205.69L436.44,208.51ZM436.00,205.78L436.57,203.35L437.50,203.57L436.93,206.00ZM436.51,203.68L437.05,200.01L437.99,200.15L437.45,203.82ZM437.96,200.04L438.49,206.24L437.54,206.32L437.01,200.12ZM437.51,206.23L438.04,201.36L438.99,201.47L438.46,206.33ZM438.01,201.66L438.55,197.28L439.49,197.40L438.95,201.77ZM438.51,197.58L439.05,193.19L439.99,193.31L439.45,197.70ZM439.95,193.18L440.49,196.97L439.55,197.11L439.01,193.32ZM440.44,196.66L440.99,199.68L440.06,199.85L439.51,196.83ZM440.01,199.71L440.75,193.30L441.69,193.40L440.95,199.82ZM441.54,193.35L441.85,337.15L441.16,337.15L440.85,193.35ZM441.93,336.75L442.30,338.36L441.37,338.57L441.00,336.96ZM442.26,338.13L442.79,344.74L441.84,344.82L441.31,338.21ZM441.82,344.75L442.34,337.40L443.28,337.47L442.76,344.81ZM443.27,337.41L443.78,345.96L442.83,346.02L442.32,337.47ZM442.80,345.88L443.22,344.09L444.15,344.30L443.73,346.09ZM443.16,344.43L443.55,341.24L444.49,341.36L444.10,344.55ZM444.46,341.27L444.78,345.67L443.84,345.74L443.52,341.34ZM444.75,345.35L445.09,348.06L444.15,348.18L443.81,345.47ZM445.04,347.73L445.45,349.79L444.51,349.97L444.10,347.92ZM445.41,349.53L445.79,353.10L444.84,353.20L444.46,349.63ZM444.95,353.15L445.26,119.25L445.95,119.25L445.64,353.15ZM446.04,119.16L446.50,121.49L445.56,121.67L445.10,119.34ZM446.47,121.25L446.88,128.14L445.93,128.20L445.52,121.31ZM445.91,128.13L446.44,122.00L447.39,122.08L446.86,128.21ZM447.37,122.01L447.88,130.57L446.93,130.63L446.42,122.07ZM446.90,130.50L447.26,128.73L448.20,128.92L447.84,130.69ZM447.21,129.06L447.55,126.58L448.49,126.71L448.15,129.19ZM448.45,126.59L448.79,129.51L447.85,129.62L447.51,126.70ZM448.76,129.23L449.08,133.51L448.14,133.58L447.82,129.30ZM448.93,133.03L449.44,133.88L448.62,134.36L448.11,133.51ZM448.48,133.82L449.01,133.12L449.77,133.69L449.24,134.40ZM449.70,133.23L450.30,134.94L449.40,135.25L448.80,133.54ZM450.18,134.63L450.80,136.12L449.92,136.48L449.30,134.99ZM449.81,136.23L450.21,133.79L451.14,133.94L450.74,136.39ZM450.16,134.09L450.55,131.33L451.49,131.46L451.10,134.22ZM450.50,131.50L450.98,130.32L451.86,130.68L451.38,131.86ZM451.44,130.15L452.08,130.46L451.66,131.31L451.02,131.00ZM451.81,130.33L452.45,130.64L452.02,131.49L451.39,131.18ZM452.44,130.85L452.75,266.45L452.06,266.45L451.75,130.85ZM452.86,266.11L453.49,273.74L452.54,273.81L451.91,266.19ZM453.11,273.14L453.87,273.59L453.39,274.41L452.63,273.96ZM453.75,273.49L454.45,274.26L453.75,274.90L453.05,274.13ZM454.40,274.18L455.00,275.95L454.10,276.25L453.50,274.48ZM454.51,275.46L455.30,275.73L454.99,276.63L454.20,276.36ZM455.45,275.92L455.99,280.28L455.05,280.40L454.51,276.04ZM455.92,279.93L456.50,282.12L455.58,282.36L455.00,280.17ZM456.44,281.86L456.99,284.78L456.06,284.95L455.51,282.04ZM456.96,284.52L457.49,289.53L456.54,289.64L456.01,284.62ZM456.51,289.51L456.95,286.70L457.89,286.85L457.45,289.66ZM456.90,286.89L457.41,285.57L458.30,285.91L457.79,287.23ZM458.26,285.70L458.98,295.55L458.04,295.62L457.32,285.77ZM458.87,295.10L459.49,296.46L458.63,296.86L458.01,295.49ZM459.39,296.21L460.00,297.74L459.11,298.09L458.50,296.56ZM459.03,297.62L459.70,296.68L460.47,297.23L459.80,298.18ZM459.55,296.87L460.25,296.11L460.95,296.75L460.25,297.51ZM460.13,296.20L460.89,295.76L461.37,296.58L460.61,297.02ZM461.46,296.05L461.99,301.66L461.04,301.75L460.51,296.14ZM461.81,301.16L462.48,302.14L461.69,302.68L461.02,301.70ZM461.78,301.84L462.58,301.72L462.72,302.66L461.92,302.78ZM462.96,302.03L463.48,309.35L462.54,309.42L462.02,302.09ZM462.51,309.33L463.04,304.55L463.99,304.65L463.46,309.44ZM463.97,304.57L464.48,313.35L463.53,313.41L463.02,304.63ZM463.51,313.14L464.15,311.96L464.99,312.41L464.35,313.59ZM464.00,312.27L464.62,310.82L465.50,311.19L464.88,312.64ZM465.46,310.96L465.99,317.41L465.04,317.48L464.51,311.03ZM465.95,317.08L466.49,320.72L465.55,320.86L465.01,317.22ZM466.41,320.37L467.00,322.33L466.09,322.60L465.50,320.64ZM466.94,322.08L467.50,324.87L466.56,325.06L466.00,322.27ZM467.36,324.47L467.99,325.78L467.14,326.19L466.51,324.89ZM467.86,325.51L468.49,326.82L467.64,327.23L467.01,325.92ZM468.39,326.58L469.10,328.47L468.21,328.81L467.50,326.91ZM468.25,328.65L469.36,217.35L470.05,217.35L468.94,328.65ZM470.03,217.13L470.98,218.71L470.17,219.20L469.22,217.62ZM470.96,218.65L471.28,223.05L470.34,223.12L470.02,218.71ZM470.31,222.87L471.13,221.06L471.99,221.46L471.17,223.27ZM471.96,221.21L472.48,228.39L471.54,228.46L471.02,221.28ZM472.45,228.06L472.99,232.31L472.05,232.43L471.51,228.18ZM472.89,231.91L473.50,233.51L472.61,233.85L472.00,232.25ZM472.51,233.48L473.13,232.11L473.99,232.51L473.37,233.87ZM473.96,232.27L474.48,240.38L473.54,240.44L473.02,232.33ZM473.51,240.34L474.05,236.19L474.99,236.31L474.45,240.47ZM474.96,236.21L475.48,243.68L474.54,243.75L474.02,236.28ZM475.11,243.08L475.87,243.53L475.39,244.35L474.63,243.90ZM475.94,243.62L476.50,246.35L475.56,246.54L475.00,243.81ZM476.42,246.03L477.00,248.11L476.08,248.37L475.50,246.28ZM476.90,247.80L477.50,249.52L476.60,249.83L476.00,248.11ZM476.51,249.64L476.84,245.66L477.79,245.73L477.46,249.72ZM477.76,245.65L478.49,254.00L477.54,254.08L476.81,245.74ZM477.58,253.63L478.31,253.01L478.92,253.73L478.19,254.35ZM478.19,253.08L478.96,252.77L479.31,253.66L478.54,253.96ZM479.46,253.07L479.99,258.61L479.04,258.70L478.51,253.17ZM479.01,258.59L479.55,254.73L480.49,254.86L479.95,258.72ZM480.46,254.76L480.99,261.62L480.04,261.70L479.51,254.83ZM480.92,261.25L481.50,263.55L480.58,263.78L480.00,261.48ZM481.45,263.30L481.99,267.46L481.05,267.58L480.51,263.43ZM481.95,267.16L482.49,271.43L481.55,271.55L481.01,267.28ZM482.46,271.14L482.99,275.97L482.04,276.07L481.51,271.24ZM482.71,275.42L483.43,276.07L482.79,276.77L482.07,276.12ZM483.28,275.91L483.97,276.79L483.22,277.38L482.53,276.49ZM483.43,276.47L484.23,276.61L484.07,277.54L483.27,277.41ZM483.56,276.83L484.27,276.10L484.94,276.76L484.23,277.49ZM484.94,276.30L485.49,279.31L484.56,279.48L484.01,276.48ZM485.45,279.04L485.99,283.37L485.05,283.49L484.51,279.15ZM485.95,283.06L486.49,286.76L485.55,286.89L485.01,283.20ZM486.45,286.47L486.99,291.07L486.05,291.18L485.51,286.58ZM486.96,290.79L487.49,297.33L486.54,297.41L486.01,290.86ZM486.51,297.32L487.04,292.55L487.99,292.66L487.46,297.42ZM487.00,292.79L487.57,290.46L488.50,290.68L487.93,293.01ZM487.51,290.82L488.04,284.68L488.99,284.77L488.46,290.90ZM488.01,284.97L488.55,280.44L489.49,280.55L488.95,285.08ZM488.53,280.47L489.22,279.59L489.97,280.17L489.28,281.06ZM489.84,279.85L490.15,331.15L489.46,331.15L489.15,279.85ZM489.31,331.11L489.74,325.58L490.69,325.66L490.26,331.19ZM489.72,325.90L490.03,319.00L490.98,319.04L490.67,325.94ZM490.71,318.72L491.43,319.38L490.79,320.08L490.07,319.42ZM490.51,319.55L491.15,318.30L491.99,318.73L491.35,319.98ZM491.81,318.26L492.48,319.24L491.69,319.78L491.02,318.79ZM491.50,319.36L492.11,317.75L493.00,318.09L492.39,319.69ZM492.02,318.19L492.53,307.52L493.48,307.56L492.97,318.23ZM492.50,307.64L493.12,306.18L494.00,306.54L493.38,308.01ZM493.00,306.49L493.60,304.69L494.50,304.99L493.90,306.79ZM493.51,305.04L494.06,302.18L494.99,302.36L494.44,305.22ZM494.01,302.33L494.65,301.12L495.49,301.57L494.85,302.77ZM494.67,301.11L495.44,300.76L495.83,301.62L495.06,301.97ZM495.32,300.79L496.12,300.73L496.18,301.68L495.38,301.74ZM495.51,301.15L496.13,299.82L496.99,300.22L496.37,301.55ZM496.07,299.90L496.79,299.25L497.43,299.96L496.71,300.61ZM496.50,299.73L497.08,297.60L498.00,297.85L497.42,299.98ZM497.38,297.39L498.18,297.44L498.12,298.39L497.32,298.34ZM498.04,297.41L498.72,297.69L498.36,298.57L497.68,298.29ZM497.90,298.10L498.37,296.16L499.30,296.38L498.83,298.33ZM498.32,296.56L498.53,287.64L499.48,287.67L499.27,296.58ZM498.50,287.85L499.27,284.32L500.20,284.52L499.43,288.05ZM500.16,284.37L500.59,288.57L499.64,288.67L499.21,284.47ZM500.56,288.27L500.99,292.48L500.04,292.57L499.61,288.37ZM500.00,292.41L500.52,290.20L501.45,290.42L500.93,292.63ZM500.46,290.54L500.95,286.79L501.89,286.91L501.40,290.66ZM501.74,286.85L502.05,321.15L501.36,321.15L501.05,286.85ZM501.20,320.99L501.80,319.22L502.70,319.52L502.10,321.29ZM502.63,319.25L503.30,322.02L502.37,322.24L501.70,319.47ZM502.31,322.08L503.05,315.85L503.99,315.96L503.25,322.19ZM503.90,315.76L504.40,317.14L503.50,317.47L503.00,316.08ZM504.21,316.77L504.78,317.62L503.99,318.15L503.42,317.31ZM503.82,317.88L504.33,306.82L505.28,306.87L504.77,317.93ZM505.25,306.77L505.99,311.73L505.05,311.87L504.31,306.92ZM505.01,311.75L505.44,307.79L506.39,307.90L505.96,311.86ZM505.41,308.07L505.85,305.19L506.79,305.33L506.35,308.22ZM506.75,305.20L507.49,311.30L506.55,311.41L505.81,305.32ZM506.51,311.30L507.14,305.34L508.09,305.44L507.46,311.40ZM507.10,305.54L507.59,304.00L508.50,304.29L508.01,305.83ZM507.51,304.21L508.04,303.15L508.89,303.58L508.36,304.64ZM508.74,303.35L509.15,367.15L508.46,367.15L508.05,303.35ZM508.32,367.14L508.53,355.74L509.48,355.76L509.27,367.16ZM508.50,355.87L509.11,354.33L510.00,354.68L509.39,356.22ZM509.00,354.68L509.57,352.22L510.50,352.43L509.93,354.90ZM509.52,352.32L510.19,351.34L510.98,351.88L510.31,352.86ZM510.01,351.64L510.65,350.46L511.49,350.91L510.85,352.09ZM510.61,350.50L511.36,350.01L511.89,350.80L511.14,351.29ZM511.01,350.60L511.54,344.05L512.49,344.13L511.96,350.67ZM512.21,343.79L512.93,344.45L512.29,345.15L511.57,344.49ZM512.84,344.33L513.49,345.50L512.66,345.96L512.01,344.80ZM512.51,345.70L513.04,339.93L513.99,340.01L513.46,345.79ZM513.00,340.07L513.62,338.62L514.50,339.00L513.88,340.44ZM513.50,338.98L514.07,336.67L515.00,336.89L514.43,339.21ZM514.00,336.87L514.63,335.46L515.50,335.84L514.87,337.25ZM514.50,335.78L515.09,333.95L516.00,334.24L515.41,336.07ZM515.00,334.28L515.57,331.75L516.50,331.95L515.93,334.49ZM516.45,331.79L516.99,335.84L516.05,335.97L515.51,331.91ZM516.02,335.88L516.54,327.78L517.48,327.84L516.96,335.94ZM516.50,327.96L517.09,326.12L518.00,326.41L517.41,328.25ZM517.02,326.29L517.67,325.22L518.48,325.72L517.83,326.79ZM518.46,325.42L518.98,333.33L518.04,333.39L517.52,325.48ZM518.02,333.34L518.53,319.45L519.48,319.48L518.97,333.38ZM518.52,319.49L519.18,318.45L519.98,318.96L519.32,320.00ZM519.03,318.66L519.71,317.77L520.47,318.34L519.79,319.24ZM520.46,317.99L520.98,325.54L520.04,325.61L519.52,318.06ZM520.02,325.56L520.53,311.29L521.48,311.32L520.97,325.59ZM521.47,311.28L521.98,322.41L521.03,322.46L520.52,311.33ZM521.02,322.41L521.53,310.93L522.48,310.97L521.97,322.45ZM522.46,310.90L522.99,315.72L522.04,315.82L521.51,311.00ZM522.95,315.41L523.49,319.60L522.55,319.72L522.01,315.53ZM522.52,319.63L523.03,310.80L523.98,310.86L523.47,319.69ZM523.96,310.78L524.49,315.91L523.54,316.01L523.01,310.88ZM524.45,315.60L524.99,319.66L524.05,319.78L523.51,315.72ZM524.01,319.68L524.54,314.21L525.49,314.30L524.96,319.77ZM524.51,314.51L525.04,309.20L525.99,309.30L525.46,314.60ZM525.92,309.13L526.50,311.33L525.58,311.57L525.00,309.37ZM526.43,311.05L527.00,313.55L526.07,313.76L525.50,311.26ZM526.96,313.31L527.49,318.29L526.54,318.39L526.01,313.41ZM527.37,317.86L527.99,319.25L527.13,319.64L526.51,318.25ZM527.93,319.05L528.50,321.37L527.57,321.59L527.00,319.28ZM527.51,321.44L528.04,315.37L528.99,315.46L528.46,321.52ZM528.01,315.67L528.54,310.30L529.49,310.39L528.96,315.76ZM529.42,310.22L530.00,312.25L529.08,312.52L528.50,310.48ZM529.94,312.00L530.49,314.87L529.56,315.05L529.01,312.18ZM529.51,314.91L530.04,310.00L530.99,310.10L530.46,315.01ZM530.96,310.00L531.49,314.81L530.54,314.91L530.01,310.11ZM531.46,314.52L531.99,319.85L531.04,319.94L530.51,314.61ZM531.02,319.87L531.44,313.15L532.38,313.21L531.96,319.93ZM531.42,313.45L531.84,306.81L532.78,306.87L532.36,313.51ZM532.77,306.82L533.28,320.13L532.33,320.17L531.82,306.86ZM533.14,319.85L533.35,470.15L532.66,470.15L532.45,319.85ZM532.52,469.80L533.31,468.83L534.08,469.46L533.29,470.43ZM533.94,469.11L534.45,515.42L533.76,515.43L533.25,469.11ZM533.60,515.42L533.88,477.29L534.88,477.30L534.60,515.43ZM534.72,477.29L535.37,522.98L534.68,522.99L534.03,477.30ZM534.68,522.98L534.96,474.38L535.65,474.39L535.37,522.98ZM534.79,474.63L535.47,467.85L536.46,467.95L535.78,474.73ZM536.45,467.90L536.95,497.68L535.95,497.70L535.45,467.91ZM536.94,497.37L537.61,515.98L536.61,516.01L535.94,497.41ZM536.75,515.99L537.41,472.91L538.10,472.92L537.44,516.00ZM538.23,472.87L539.11,480.94L538.12,481.05L537.24,472.97ZM539.10,480.69L539.95,511.04L538.95,511.06L538.10,480.71ZM539.94,510.73L540.33,518.50L539.33,518.55L538.94,510.78ZM539.31,518.48L539.62,515.06L540.61,515.15L540.31,518.57ZM540.59,515.07L541.11,522.26L540.11,522.34L539.59,515.14ZM540.10,522.28L540.61,506.97L541.60,507.01L541.09,522.32ZM540.75,507.29L541.26,465.89L541.95,465.90L541.44,507.30ZM541.94,465.89L542.60,523.42L541.91,523.43L541.25,465.90ZM541.75,523.41L542.40,493.38L543.40,493.40L542.75,523.43ZM542.38,493.58L542.94,491.03L543.92,491.25L543.36,493.79ZM542.90,491.42L543.40,472.83L544.40,472.86L543.90,491.45ZM544.24,472.84L545.10,526.43L544.41,526.45L543.55,472.85ZM544.25,526.42L544.76,511.18L545.75,511.21L545.24,526.46ZM544.90,511.49L545.41,468.89L546.10,468.90L545.59,511.50ZM546.24,468.87L547.11,489.78L546.11,489.82L545.24,468.91ZM546.10,489.79L546.38,479.68L547.38,479.71L547.10,489.82ZM547.37,479.69L547.88,507.66L546.88,507.68L546.37,479.70ZM546.87,507.64L547.73,491.01L548.73,491.06L547.87,507.69ZM548.71,490.99L549.24,496.31L548.24,496.41L547.71,491.09ZM549.22,496.05L549.60,511.45L548.60,511.47L548.22,496.07ZM548.59,511.42L549.46,501.19L550.46,501.27L549.59,511.50ZM550.44,501.21L551.31,520.74L550.31,520.78L549.44,501.25ZM550.29,520.74L550.58,512.89L551.58,512.93L551.29,520.78ZM551.55,512.84L551.87,514.92L550.88,515.07L550.56,512.99ZM550.85,514.99L551.50,477.36L552.50,477.38L551.85,515.00ZM552.50,477.36L552.88,513.01L551.88,513.02L551.50,477.37ZM551.87,513.01L552.53,476.67L553.53,476.68L552.87,513.03ZM553.52,476.67L554.03,509.48L553.03,509.50L552.52,476.68ZM553.02,509.48L553.30,473.27L554.30,473.28L554.02,509.49ZM554.30,473.26L554.80,494.80L553.80,494.82L553.30,473.28ZM554.80,494.50L555.30,513.68L554.30,513.70L553.80,494.52ZM554.30,513.68L554.95,477.74L555.95,477.76L555.30,513.70ZM555.94,477.72L556.81,493.60L555.81,493.65L554.94,477.78ZM556.80,493.31L557.30,514.46L556.30,514.49L555.80,493.34ZM557.27,514.09L557.59,516.05L556.61,516.21L556.28,514.26ZM556.57,516.13L557.08,489.74L558.08,489.76L557.57,516.14ZM557.07,490.04L557.45,472.77L558.45,472.79L558.07,490.06ZM558.45,472.78L558.83,506.68L557.83,506.69L557.45,472.79ZM557.82,506.68L558.10,477.89L559.10,477.90L558.82,506.69ZM559.07,477.81L559.39,479.67L558.41,479.84L558.08,477.98ZM558.37,479.73L559.04,469.19L560.03,469.25L559.36,479.79ZM560.02,469.20L560.68,491.54L559.68,491.57L559.02,469.23ZM560.67,491.23L561.18,500.50L560.18,500.55L559.67,491.28ZM561.16,500.19L561.68,508.64L560.69,508.70L560.17,500.25ZM561.66,508.34L562.53,520.99L561.54,521.06L560.67,508.41ZM561.68,521.02L562.33,476.33L563.02,476.34L562.37,521.03ZM563.17,476.33L563.68,513.25L562.68,513.27L562.17,476.34ZM562.65,513.12L563.23,510.96L564.20,511.21L563.62,513.38ZM563.16,511.31L563.70,507.53L564.69,507.67L564.15,511.45ZM563.72,507.49L564.58,506.64L565.28,507.36L564.42,508.21ZM564.32,507.24L564.98,474.96L565.98,474.98L565.32,507.26ZM565.96,474.93L566.36,479.22L565.37,479.31L564.96,475.02ZM566.35,478.96L566.85,504.86L565.85,504.88L565.35,478.98ZM566.84,504.55L567.51,520.85L566.51,520.89L565.84,504.59ZM566.65,520.86L567.16,479.88L567.85,479.89L567.34,520.87ZM566.99,480.16L567.28,473.83L568.28,473.88L567.99,480.20ZM568.12,473.85L568.75,540.15L568.06,540.15L567.43,473.86ZM567.90,540.14L568.30,523.63L569.30,523.65L568.90,540.16ZM568.30,523.92L568.81,508.04L569.80,508.07L569.29,523.96ZM568.80,508.34L569.30,490.45L570.30,490.48L569.80,508.37ZM569.41,490.27L570.31,489.71L570.84,490.55L569.94,491.12ZM570.95,490.05L571.45,519.62L570.45,519.64L569.95,490.07ZM570.60,519.63L570.98,466.94L571.67,466.95L571.29,519.63ZM571.82,466.93L572.68,490.73L571.68,490.77L570.82,466.96ZM572.67,490.44L572.95,515.61L571.95,515.62L571.67,490.46ZM571.94,515.59L572.24,510.99L573.23,511.06L572.94,515.65ZM572.22,511.31L572.73,497.79L573.73,497.83L573.22,511.34ZM573.71,497.77L574.59,509.06L573.59,509.14L572.71,497.85ZM573.57,509.09L573.95,478.29L574.95,478.31L574.57,509.11ZM574.05,478.12L574.67,477.70L575.23,478.52L574.61,478.95ZM575.32,478.04L575.98,512.98L574.98,513.00L574.32,478.05ZM574.97,512.98L575.25,474.88L576.25,474.89L575.97,512.99ZM576.23,474.83L576.76,479.65L575.77,479.76L575.24,474.94ZM576.75,479.40L577.13,506.31L576.13,506.32L575.75,479.41ZM576.12,506.27L576.79,497.49L577.78,497.56L577.11,506.35ZM576.77,497.81L577.28,478.02L578.28,478.04L577.77,497.84ZM577.25,478.22L577.82,475.66L578.80,475.88L578.23,478.44ZM578.62,475.76L579.47,517.90L578.78,517.92L577.93,475.78ZM578.62,517.89L579.01,509.39L580.01,509.44L579.62,517.93ZM579.00,509.71L579.38,473.59L580.38,473.60L580.00,509.72ZM580.28,473.42L581.24,475.80L580.32,476.17L579.36,473.79ZM581.22,475.69L581.73,515.77L580.73,515.78L580.22,475.70ZM581.70,515.41L582.24,519.79L581.25,519.91L580.71,515.53ZM581.22,519.84L581.60,498.10L582.60,498.12L582.22,519.86ZM581.60,498.40L581.98,472.15L582.98,472.16L582.60,498.41ZM582.97,472.15L583.48,510.00L582.48,510.02L581.97,472.16ZM582.47,510.00L582.85,476.13L583.85,476.14L583.47,510.02ZM583.85,476.12L584.35,506.36L583.35,506.37L582.85,476.14ZM583.35,506.36L583.73,479.84L584.73,479.85L584.35,506.37ZM583.72,480.12L584.23,469.16L585.23,469.20L584.72,480.17ZM585.07,469.17L585.92,516.68L585.23,516.69L584.38,469.19ZM585.23,516.68L585.73,471.92L586.42,471.93L585.92,516.69ZM586.42,471.92L586.92,523.09L586.23,523.10L585.73,471.93ZM586.23,523.09L586.61,477.63L587.30,477.64L586.92,523.10ZM587.29,477.63L587.75,540.15L587.06,540.15L586.60,477.64ZM586.90,540.14L587.10,523.63L588.10,523.64L587.90,540.16ZM587.25,523.93L587.91,464.47L588.60,464.48L587.94,523.94ZM588.69,464.35L589.42,466.89L588.46,467.17L587.73,464.62ZM589.24,466.73L589.75,510.17L589.06,510.17L588.55,466.74ZM588.88,510.08L589.31,507.57L590.29,507.74L589.87,510.25ZM589.27,507.95L589.65,480.20L590.65,480.22L590.27,507.96ZM590.64,480.19L591.31,495.19L590.31,495.23L589.64,480.23ZM590.30,495.20L590.68,473.66L591.68,473.68L591.30,495.22ZM591.67,473.67L592.05,508.62L591.05,508.63L590.67,473.68ZM591.04,508.61L591.33,500.70L592.33,500.73L592.04,508.65ZM592.32,500.69L593.18,517.21L592.18,517.26L591.32,500.74ZM592.33,517.23L592.83,470.85L593.52,470.86L593.02,517.24ZM593.66,470.81L594.19,476.41L593.19,476.51L592.66,470.90ZM594.02,476.16L594.40,520.60L593.71,520.60L593.33,476.16ZM593.55,520.59L593.93,489.52L594.93,489.53L594.55,520.61ZM593.92,489.82L594.20,476.62L595.20,476.64L594.92,489.84ZM594.19,476.91L594.48,469.73L595.48,469.77L595.19,476.95ZM595.46,469.70L595.76,472.67L594.77,472.77L594.46,469.80ZM595.75,472.41L596.25,492.64L595.25,492.66L594.75,472.43ZM596.24,492.33L596.90,512.00L595.91,512.03L595.25,492.37ZM596.89,511.69L597.18,517.53L596.18,517.58L595.89,511.74ZM596.33,517.55L596.98,471.31L597.67,471.32L597.02,517.56ZM597.67,471.31L598.05,521.16L597.36,521.17L596.98,471.32ZM597.35,521.16L597.73,477.35L598.42,477.36L598.04,521.17ZM597.57,477.64L597.86,469.80L598.86,469.84L598.57,477.68ZM598.83,469.76L599.36,474.07L598.37,474.19L597.84,469.88ZM599.27,473.68L600.02,475.86L599.08,476.19L598.33,474.00ZM600.00,475.73L600.28,512.40L599.28,512.40L599.00,475.74ZM599.27,512.39L599.55,499.11L600.55,499.13L600.27,512.41ZM599.55,499.41L600.05,479.68L601.05,479.71L600.55,499.43ZM601.04,479.67L601.71,492.79L600.71,492.84L600.04,479.72ZM601.69,492.50L602.08,502.37L601.08,502.41L600.69,492.54ZM601.07,502.39L601.58,471.04L602.58,471.06L602.07,502.40ZM602.57,471.04L603.08,499.15L602.08,499.16L601.57,471.06ZM602.92,498.85L603.35,540.15L602.66,540.15L602.23,498.86ZM602.50,540.14L603.00,505.05L604.00,505.07L603.50,540.16ZM603.99,505.04L604.38,514.59L603.38,514.63L602.99,505.08ZM603.37,514.60L604.03,491.26L605.03,491.29L604.37,514.62ZM605.02,491.27L605.53,523.43L604.53,523.44L604.02,491.28ZM604.68,523.43L605.33,472.84L606.02,472.84L605.37,523.44ZM606.02,472.84L606.52,513.20L605.83,513.21L605.33,472.84ZM605.66,513.11L605.99,511.43L606.97,511.62L606.64,513.30ZM605.95,511.81L606.45,472.97L607.45,472.98L606.95,511.83ZM607.29,472.97L607.80,513.79L607.11,513.80L606.60,472.98ZM606.95,513.78L607.45,493.75L608.45,493.77L607.95,513.81ZM607.45,494.05L607.73,473.31L608.73,473.32L608.45,494.07ZM608.72,473.30L609.58,498.39L608.58,498.42L607.72,473.33ZM609.57,498.09L609.85,507.45L608.85,507.48L608.57,498.12ZM608.85,507.46L609.50,468.31L610.50,468.32L609.85,507.48ZM610.34,468.31L610.75,540.15L610.06,540.15L609.65,468.32ZM609.90,540.14L610.65,511.56L611.65,511.58L610.90,540.16ZM610.65,511.86L611.15,473.94L612.15,473.95L611.65,511.88ZM612.13,473.90L612.66,479.83L611.67,479.92L611.14,473.99ZM612.65,479.56L613.15,506.90L612.15,506.91L611.65,479.58ZM612.15,506.89L613.00,474.47L614.00,474.50L613.15,506.92ZM614.00,474.47L614.65,508.15L613.65,508.17L613.00,474.49ZM613.65,508.16L614.15,472.46L615.15,472.48L614.65,508.17ZM615.10,472.36L615.82,475.51L614.85,475.73L614.13,472.58ZM615.79,475.28L616.09,478.72L615.09,478.81L614.79,475.37ZM615.92,478.46L616.42,518.86L615.73,518.87L615.23,478.47ZM616.57,518.56L616.90,540.14L615.90,540.16L615.57,518.57ZM615.90,540.14L616.58,506.34L617.58,506.36L616.90,540.16ZM616.57,506.64L616.95,471.71L617.95,471.72L617.57,506.65ZM617.95,471.71L618.23,505.13L617.23,505.14L616.95,471.72ZM617.22,505.12L618.08,476.41L619.08,476.44L618.22,505.15ZM619.07,476.41L619.93,500.96L618.93,501.00L618.07,476.44ZM619.91,500.63L620.79,509.73L619.79,509.82L618.91,500.73ZM620.43,509.13L621.18,509.64L620.62,510.46L619.87,509.95ZM621.27,509.81L621.90,540.14L620.90,540.16L620.27,509.83ZM621.05,540.15L621.46,470.68L622.15,470.68L621.74,540.15ZM622.27,470.59L622.82,473.66L621.83,473.83L621.28,470.77ZM621.79,473.70L622.67,464.78L623.66,464.88L622.78,473.80ZM623.64,464.81L624.31,476.58L623.31,476.64L622.64,464.86ZM623.29,476.57L623.69,471.53L624.69,471.61L624.29,476.65ZM623.69,471.53L624.52,470.46L625.31,471.08L624.48,472.15ZM625.32,470.73L625.83,506.45L624.83,506.46L624.32,470.74ZM624.82,506.42L625.34,498.86L626.33,498.93L625.81,506.49ZM625.32,499.18L626.18,471.51L627.18,471.54L626.32,499.21ZM627.16,471.49L627.69,477.76L626.69,477.84L626.16,471.57ZM627.67,477.50L628.05,504.43L627.05,504.44L626.67,477.51ZM627.05,504.43L627.43,469.89L628.43,469.90L628.05,504.44ZM628.27,469.89L628.92,511.36L628.23,511.37L627.58,469.90ZM628.98,510.89L629.47,512.06L628.55,512.45L628.06,511.27ZM628.45,512.26L628.73,478.03L629.73,478.04L629.45,512.27ZM629.72,478.03L630.23,513.83L629.23,513.84L628.72,478.04ZM630.22,513.52L630.90,540.14L629.90,540.16L629.22,513.55ZM629.90,540.14L630.53,502.85L631.53,502.87L630.90,540.16ZM630.52,503.15L631.03,473.88L632.03,473.90L631.52,503.17ZM632.02,473.88L632.30,500.87L631.30,500.88L631.02,473.89ZM631.30,500.87L631.58,475.03L632.58,475.04L632.30,500.88ZM632.54,474.96L633.24,479.09L632.26,479.26L631.56,475.12ZM633.22,478.86L633.73,498.48L632.73,498.51L632.22,478.89ZM632.72,498.48L633.38,474.67L634.38,474.69L633.72,498.51ZM634.34,474.59L634.77,476.89L633.79,477.08L633.36,474.77ZM634.75,476.68L635.25,510.82L634.25,510.84L633.75,476.69ZM634.25,510.82L634.75,493.48L635.75,493.50L635.25,510.85ZM635.75,493.48L636.40,518.52L635.40,518.55L634.75,493.50ZM635.40,518.53L635.78,493.59L636.78,493.60L636.40,518.55ZM636.77,493.58L637.15,508.96L636.15,508.98L635.77,493.61ZM636.15,508.96L636.53,474.25L637.53,474.26L637.15,508.97ZM637.37,474.25L638.02,525.41L637.33,525.41L636.68,474.26ZM637.17,525.40L637.45,512.91L638.45,512.94L638.17,525.42ZM637.60,513.22L637.88,467.29L638.57,467.29L638.29,513.23ZM638.72,467.29L639.00,497.44L638.00,497.45L637.72,467.30ZM638.00,497.44L638.38,471.74L639.38,471.76L639.00,497.46ZM639.22,471.74L640.07,517.29L639.38,517.30L638.53,471.76ZM639.22,517.28L639.60,503.30L640.60,503.33L640.22,517.31ZM639.60,503.61L639.88,474.82L640.88,474.83L640.60,503.62ZM640.86,474.79L641.16,479.36L640.16,479.42L639.87,474.86ZM641.14,479.07L641.65,494.11L640.66,494.14L640.15,479.11ZM641.63,493.78L641.94,497.01L640.94,497.10L640.64,493.87ZM640.92,497.04L641.58,472.39L642.58,472.42L641.92,497.07ZM642.50,472.25L642.97,473.60L642.03,473.93L641.55,472.58ZM642.93,473.41L643.61,479.07L642.62,479.19L641.94,473.53ZM642.60,479.12L642.88,470.24L643.88,470.28L643.59,479.15ZM643.87,470.25L644.15,498.59L643.15,498.60L642.87,470.26ZM643.15,498.59L643.53,479.22L644.53,479.24L644.15,498.61ZM643.52,479.51L643.91,470.14L644.91,470.18L644.52,479.55ZM644.89,470.13L645.41,478.36L644.41,478.42L643.89,470.19ZM644.38,478.31L644.71,476.32L645.69,476.48L645.37,478.47ZM644.89,476.11L645.56,475.92L645.83,476.88L645.17,477.07ZM646.05,476.29L646.33,507.64L645.33,507.65L645.05,476.30ZM645.48,507.64L645.86,464.21L646.55,464.21L646.17,507.64ZM646.54,464.21L647.05,510.72L646.36,510.73L645.85,464.21ZM647.19,510.39L647.86,519.63L646.86,519.71L646.19,510.46ZM646.85,519.66L647.70,479.66L648.70,479.68L647.85,519.68ZM648.70,479.66L649.20,504.18L648.20,504.20L647.70,479.68ZM648.20,504.18L648.70,465.37L649.70,465.38L649.20,504.19ZM649.54,465.37L649.95,540.15L649.26,540.15L648.85,465.38ZM649.25,540.15L649.73,477.87L650.42,477.88L649.94,540.15ZM650.57,477.87L650.95,502.27L649.95,502.28L649.57,477.88ZM649.95,502.27L650.33,476.85L651.33,476.86L650.95,502.28ZM651.32,476.84L651.83,499.53L650.83,499.56L650.32,476.87ZM651.82,499.23L652.33,517.40L651.33,517.43L650.82,499.26ZM651.31,517.34L651.73,514.77L652.72,514.93L652.29,517.50ZM652.69,514.81L653.56,525.63L652.56,525.71L651.69,514.89ZM652.55,525.66L653.05,504.34L654.05,504.36L653.55,525.68ZM653.05,504.65L653.43,474.92L654.43,474.93L654.05,504.66ZM654.42,474.92L654.70,511.28L653.70,511.29L653.42,474.93ZM653.70,511.27L654.20,494.81L655.20,494.84L654.70,511.30ZM655.19,494.80L655.48,499.83L654.48,499.89L654.19,494.86ZM654.47,499.85L654.98,472.46L655.98,472.47L655.47,499.87ZM655.82,472.22L656.35,473.06L655.51,473.60L654.97,472.76ZM656.19,473.05L656.75,540.15L656.06,540.15L655.50,473.06ZM656.05,540.15L656.66,472.36L657.35,472.37L656.74,540.15ZM656.88,472.01L657.67,472.05L657.62,473.05L656.83,473.01ZM657.84,472.39L658.35,517.95L657.66,517.96L657.15,472.40ZM657.48,517.88L658.38,512.29L659.37,512.45L658.47,518.03ZM659.34,512.35L659.73,521.78L658.73,521.82L658.34,512.39ZM658.72,521.79L659.23,497.25L660.23,497.27L659.72,521.81ZM660.22,497.25L660.73,523.80L659.73,523.82L659.22,497.27ZM659.72,523.79L660.58,507.20L661.58,507.25L660.72,523.84ZM660.57,507.51L661.08,473.46L662.08,473.48L661.57,507.53ZM661.79,473.15L662.29,473.59L661.63,474.34L661.13,473.89ZM662.33,473.65L663.21,480.93L662.22,481.05L661.34,473.78ZM663.20,480.69L663.58,509.73L662.58,509.74L662.20,480.70ZM662.57,509.72L663.43,477.36L664.43,477.38L663.57,509.75ZM664.42,477.36L664.80,508.01L663.80,508.03L663.42,477.38ZM663.81,507.68L664.50,506.80L665.29,507.41L664.60,508.29ZM664.29,507.34L664.81,499.34L665.81,499.41L665.29,507.40ZM664.80,499.67L665.08,471.81L666.08,471.82L665.80,499.68ZM665.92,471.81L666.20,516.35L665.51,516.35L665.23,471.82ZM665.35,516.34L666.20,478.17L667.20,478.20L666.35,516.36ZM666.19,478.45L666.71,469.94L667.71,470.00L667.19,478.51ZM667.54,469.96L667.85,540.15L667.16,540.15L666.85,469.97ZM667.00,540.13L667.63,520.09L668.63,520.12L668.00,540.17ZM667.78,520.40L668.06,469.53L668.75,469.54L668.47,520.40ZM668.90,469.53L669.40,495.75L668.40,495.77L667.90,469.54ZM669.37,495.38L670.27,501.20L669.28,501.35L668.38,495.53ZM670.15,500.79L671.12,502.99L670.20,503.39L669.23,501.19ZM671.09,502.87L671.76,513.74L670.76,513.80L670.09,502.93ZM670.73,513.59L671.33,511.97L672.27,512.32L671.67,513.94ZM672.21,512.04L673.12,516.59L672.14,516.79L671.23,512.24ZM672.10,516.69L672.48,489.91L673.48,489.92L673.10,516.70ZM672.47,490.18L673.34,477.96L674.33,478.03L673.46,490.25ZM673.31,478.19L673.74,476.04L674.72,476.24L674.29,478.39ZM673.68,476.36L674.23,472.69L675.22,472.84L674.67,476.51ZM675.18,472.72L675.71,478.47L674.72,478.56L674.19,472.81ZM674.69,478.47L675.22,473.27L676.21,473.37L675.68,478.57ZM676.04,473.32L676.42,522.26L675.73,522.26L675.35,473.32ZM675.73,522.25L676.38,473.46L677.07,473.47L676.42,522.26ZM677.22,473.46L677.73,509.42L676.73,509.43L676.22,473.47ZM676.72,509.41L677.58,469.16L678.58,469.18L677.72,509.43ZM678.42,469.17L678.92,522.62L678.23,522.63L677.73,469.17ZM679.07,522.31L679.50,540.14L678.50,540.16L678.07,522.34ZM678.65,540.15L679.23,472.57L679.92,472.58L679.34,540.15ZM680.06,472.53L680.36,475.98L679.36,476.07L679.06,472.62ZM679.34,476.00L679.86,463.60L680.86,463.65L680.34,476.04ZM680.84,463.60L681.36,472.66L680.36,472.71L679.84,463.65ZM681.16,472.12L681.99,473.24L681.19,473.84L680.36,472.71ZM680.99,473.54L681.51,463.99L682.51,464.04L681.99,473.60ZM682.48,463.97L683.36,473.92L682.37,474.00L681.49,464.06ZM683.31,473.57L684.22,478.37L683.24,478.56L682.33,473.75ZM683.18,478.39L683.50,476.26L684.49,476.41L684.17,478.54ZM683.46,476.55L684.01,473.28L684.99,473.44L684.44,476.72ZM683.96,473.43L684.94,471.36L685.84,471.79L684.86,473.86ZM685.82,471.55L686.68,504.37L685.68,504.39L684.82,471.57ZM686.67,504.05L687.53,519.85L686.53,519.91L685.67,504.11ZM686.68,519.88L687.18,469.90L687.87,469.91L687.37,519.88ZM688.02,469.88L688.53,480.95L687.53,481.00L687.02,469.92ZM688.52,480.66L689.38,510.80L688.38,510.83L687.52,480.69ZM689.20,510.26L689.87,511.24L689.05,511.81L688.38,510.83ZM688.87,511.53L689.38,495.63L690.38,495.66L689.87,511.57ZM690.34,495.55L690.89,498.35L689.91,498.54L689.36,495.75ZM690.87,498.13L691.25,509.54L690.26,509.57L689.87,498.16ZM690.24,509.51L690.77,503.51L691.76,503.59L691.23,509.60ZM691.75,503.54L692.03,517.75L691.03,517.77L690.75,503.56ZM691.01,517.71L691.41,513.07L692.41,513.16L692.01,517.80ZM691.93,512.75L692.86,513.09L692.52,514.03L691.59,513.68ZM692.05,513.65L692.55,480.29L693.55,480.31L693.05,513.67ZM693.54,480.28L694.40,505.34L693.41,505.37L692.55,480.32ZM693.40,505.35L693.90,469.45L694.90,469.46L694.40,505.36ZM694.88,469.40L695.76,477.80L694.77,477.91L693.89,469.51ZM695.75,477.54L696.40,499.85L695.40,499.88L694.75,477.57ZM695.40,499.85L695.90,477.20L696.90,477.22L696.40,499.87ZM696.90,477.20L697.55,512.60L696.55,512.62L695.90,477.22ZM697.55,512.30L698.10,540.14L697.10,540.16L696.55,512.32ZM697.10,540.15L697.33,505.22L698.33,505.23L698.10,540.15ZM697.32,505.51L698.18,474.16L699.18,474.19L698.32,505.54ZM699.17,474.17L699.68,510.19L698.68,510.21L698.17,474.18ZM698.67,510.18L699.18,497.95L700.18,497.99L699.67,510.22ZM699.17,498.27L699.55,472.10L700.55,472.12L700.17,498.28ZM700.55,472.10L700.93,504.55L699.93,504.56L699.55,472.12ZM700.92,504.23L701.58,519.33L700.58,519.37L699.92,504.28ZM700.57,519.34L700.95,503.66L701.95,503.68L701.57,519.36ZM701.95,503.66L702.50,540.14L701.50,540.16L700.95,503.68ZM701.65,540.15L702.23,470.60L702.92,470.61L702.34,540.15ZM703.05,470.55L703.36,473.20L702.37,473.32L702.06,470.67ZM703.35,472.96L703.73,508.04L702.73,508.05L702.35,472.97ZM702.72,508.02L703.38,495.50L704.38,495.56L703.72,508.07ZM703.35,495.71L704.07,492.64L705.05,492.86L704.33,495.94ZM704.02,493.02L704.88,475.77L705.88,475.82L705.02,493.07ZM705.87,475.77L706.53,493.34L705.53,493.38L704.87,475.81ZM706.37,493.06L706.75,540.15L706.06,540.15L705.68,493.06ZM706.05,540.15L706.61,471.00L707.30,471.00L706.74,540.15ZM707.29,471.00L707.67,521.59L706.98,521.60L706.60,471.00ZM706.82,521.57L707.33,509.88L708.33,509.92L707.82,521.62ZM707.32,510.19L707.98,478.27L708.98,478.29L708.32,510.21ZM708.97,478.27L709.25,490.54L708.25,490.56L707.97,478.29ZM708.25,490.53L708.75,472.49L709.75,472.52L709.25,490.56ZM709.75,472.50L710.03,492.55L709.03,492.56L708.75,472.51ZM709.02,492.54L709.68,472.23L710.68,472.27L710.02,492.57ZM710.67,472.24L711.18,505.28L710.18,505.30L709.67,472.26ZM710.17,505.25L711.04,493.33L712.03,493.41L711.16,505.33ZM711.02,493.66L711.30,474.88L712.30,474.90L712.02,493.68ZM711.45,475.19L712.26,115.65L712.95,115.65L712.14,475.19ZM712.76,115.46L713.56,116.39L713.04,116.84L712.24,115.91ZM713.54,116.35L713.95,437.65L713.26,437.65L712.85,116.35ZM713.25,437.65L713.86,214.85L714.55,214.85L713.94,437.65ZM714.64,214.78L714.89,216.29L713.96,216.45L713.71,214.93ZM713.91,216.30L714.40,212.83L715.34,212.96L714.85,216.44ZM714.35,213.08L714.87,210.85L715.80,211.07L715.28,213.30ZM715.75,210.89L716.14,213.94L715.20,214.06L714.81,211.02ZM716.11,213.66L716.49,217.65L715.54,217.74L715.16,213.75ZM715.51,217.62L716.05,214.08L716.99,214.23L716.45,217.77ZM716.01,214.40L716.55,209.91L717.49,210.02L716.95,214.51ZM717.45,209.91L717.89,213.52L716.95,213.63L716.51,210.02ZM717.84,213.19L718.29,215.74L717.36,215.91L716.91,213.36ZM717.31,215.77L717.74,211.80L718.69,211.91L718.26,215.88ZM717.71,212.10L718.15,208.49L719.09,208.60L718.65,212.21ZM719.04,208.46L719.49,211.01L718.56,211.18L718.11,208.63ZM719.44,210.72L719.89,213.41L718.96,213.56L718.51,210.88ZM718.90,213.37L719.58,210.74L720.50,210.97L719.82,213.60Z"/>
<rect x="100" y="60" width="620" height="480" fill="none" stroke="#000" stroke-width="1.39"/>
<g stroke="#000" stroke-width="0.7">
<line x1="153.5" y1="540" x2="153.5" y2="534.4"/>
<line x1="153.5" y1="60" x2="153.5" y2="65.6"/>
<line x1="291.5" y1="540" x2="291.5" y2="534.4"/>
<line x1="291.5" y1="60" x2="291.5" y2="65.6"/>
<line x1="428.5" y1="540" x2="428.5" y2="534.4"/>
<line x1="428.5" y1="60" x2="428.5" y2="65.6"/>
<line x1="566.5" y1="540" x2="566.5" y2="534.4"/>
<line x1="566.5" y1="60" x2="566.5" y2="65.6"/>
<line x1="704.5" y1="540" x2="704.5" y2="534.4"/>
<line x1="704.5" y1="60" x2="704.5" y2="65.6"/>
<line x1="100" y1="539.50" x2="106" y2="539.50"/>
<line x1="720" y1="539.50" x2="714.5" y2="539.50"/>
<line x1="100" y1="486.50" x2="106" y2="486.50"/>
<line x1="720" y1="486.50" x2="714.5" y2="486.50"/>
<line x1="100" y1="433.50" x2="106" y2="433.50"/>
<line x1="720" y1="433.50" x2="714.5" y2="433.50"/>
<line x1="100" y1="379.50" x2="106" y2="379.50"/>
<line x1="720" y1="379.50" x2="714.5" y2="379.50"/>
<line x1="100" y1="326.50" x2="106" y2="326.50"/>
<line x1="720" y1="326.50" x2="714.5" y2="326.50"/>
<line x1="100" y1="273.50" x2="106" y2="273.50"/>
<line x1="720" y1="273.50" x2="714.5" y2="273.50"/>
<line x1="100" y1="219.50" x2="106" y2="219.50"/>
<line x1="720" y1="219.50" x2="714.5" y2="219.50"/>
<line x1="100" y1="166.50" x2="106" y2="166.50"/>
<line x1="720" y1="166.50" x2="714.5" y2="166.50"/>
<line x1="100" y1="113.50" x2="106" y2="113.50"/>
<line x1="720" y1="113.50" x2="714.5" y2="113.50"/>
<line x1="100" y1="59.50" x2="106" y2="59.50"/>
<line x1="720" y1="59.50" x2="714.5" y2="59.50"/>
</g>
<rect x="112.5" y="69.7" width="188.2" height="16.4" fill="#fff" stroke="#000" stroke-width="1.39"/>
<line x1="130" y1="78" x2="162" y2="78" stroke="#0000ff" stroke-width="0.7"/>
<g id="txt">
<text x="173" y="81" font-size="13.89" textLength="111.5" lengthAdjust="spacing">Tiltmeter angle</text>
<text x="410" y="49.7" font-size="20" text-anchor="middle" textLength="178.5" lengthAdjust="spacing">APOLLO Tiltmeter</text>
<text x="410" y="592" font-size="16.67" text-anchor="middle">Date (GMT)</text>
<text transform="translate(67,299.5) rotate(-90)" font-size="16.67" text-anchor="middle">Angle (deg)</text>
<g font-size="16.67" text-anchor="end">
<text x="95.9" y="545.3">0</text>
<text x="95.9" y="492.0">10</text>
<text x="95.9" y="438.6">20</text>
<text x="95.9" y="385.3">30</text>
<text x="95.9" y="332.0">40</text>
<text x="95.9" y="278.6">50</text>
<text x="95.9" y="225.3">60</text>
<text x="95.9" y="172.0">70</text>
<text x="95.9" y="118.6">80</text>
<text x="95.9" y="65.3">90</text>
</g>
<g font-size="16.67" text-anchor="middle">
<text x="154.0" y="556" textLength="49.3" lengthAdjust="spacing">15:00</text>
<text x="153.5" y="573" textLength="60.3" lengthAdjust="spacing">Nov 04</text>
<text x="291.7" y="556" textLength="49.3" lengthAdjust="spacing">23:00</text>
<text x="291.2" y="573" textLength="60.3" lengthAdjust="spacing">Nov 04</text>
<text x="429.4" y="556" textLength="49.3" lengthAdjust="spacing">07:00</text>
<text x="428.9" y="573" textLength="60.3" lengthAdjust="spacing">Nov 05</text>
<text x="567.1" y="556" textLength="49.3" lengthAdjust="spacing">15:00</text>
<text x="566.6" y="573" textLength="60.3" lengthAdjust="spacing">Nov 05</text>
<text x="704.8" y="556" textLength="49.3" lengthAdjust="spacing">23:00</text>
<text x="704.3" y="573" textLength="60.3" lengthAdjust="spacing">Nov 05</text>
</g>
</g>
</svg>
</body></html>
